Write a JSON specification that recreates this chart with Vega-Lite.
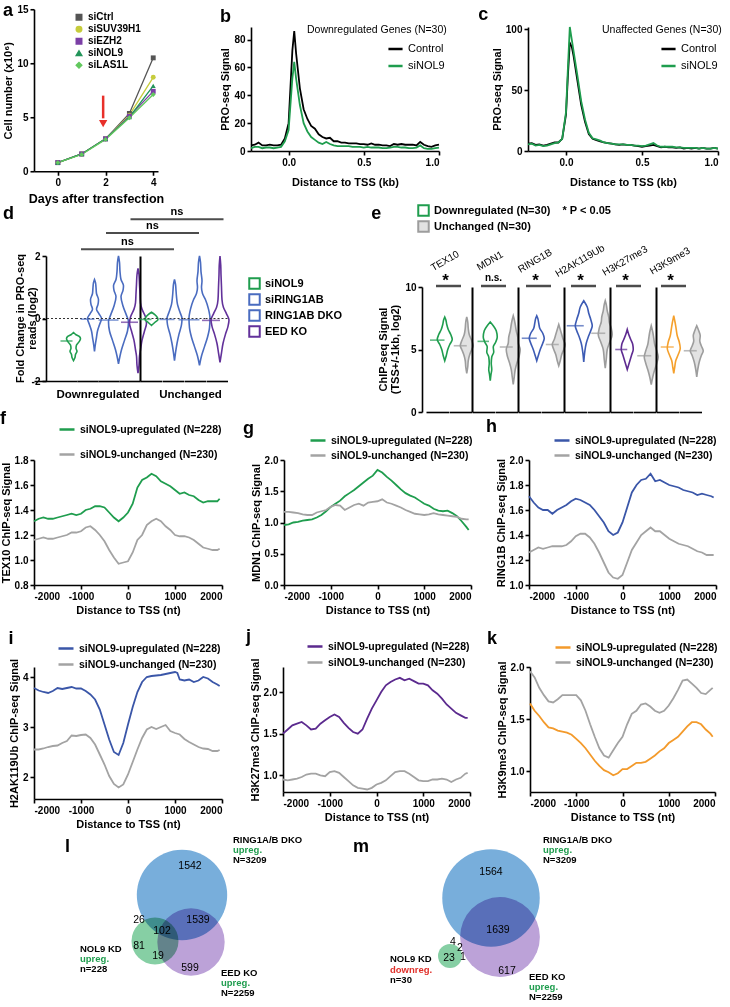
{
"$schema": "https://vega.github.io/schema/vega-lite/v6.json",
"background": "white",
"padding": {"left": 0, "top": 2, "right": 0, "bottom": 0},
"config": {
  "font": "Liberation Sans",
  "view": {"stroke": null},
  "axis": {"grid": false, "domainColor": "#000", "domainWidth": 1.6, "tickColor": "#000", "tickWidth": 1.6, "tickSize": 4, "labelColor": "#000", "labelFont": "Liberation Sans", "labelFontSize": 10, "labelFontWeight": "bold", "labelPadding": 2, "titleColor": "#000", "titleFont": "Liberation Sans", "titleFontSize": 11, "titleFontWeight": "bold", "titlePadding": 3},
  "legend": {"labelColor": "#000", "labelFont": "Liberation Sans", "labelFontSize": 10.5, "labelFontWeight": "bold", "titleColor": "#000", "titleFont": "Liberation Sans", "titleFontWeight": "normal", "titleFontSize": 10.5, "padding": 0},
  "title": {"fontSize": 18, "fontWeight": "bold", "anchor": "start", "frame": "bounds", "color": "#000", "font": "Liberation Sans"},
  "text": {"font": "Liberation Sans", "color": "#000"}
},
"datasets": {
  "a": [
    {"s":"siCtrl","day":0,"n":0.8},{"s":"siCtrl","day":1,"n":1.6},{"s":"siCtrl","day":2,"n":3.0},{"s":"siCtrl","day":3,"n":5.35},{"s":"siCtrl","day":4,"n":10.5},
    {"s":"siSUV39H1","day":0,"n":0.8},{"s":"siSUV39H1","day":1,"n":1.6},{"s":"siSUV39H1","day":2,"n":3.0},{"s":"siSUV39H1","day":3,"n":5.2},{"s":"siSUV39H1","day":4,"n":8.7},
    {"s":"siEZH2","day":0,"n":0.8},{"s":"siEZH2","day":1,"n":1.6},{"s":"siEZH2","day":2,"n":3.0},{"s":"siEZH2","day":3,"n":5.1},{"s":"siEZH2","day":4,"n":7.4},
    {"s":"siNOL9","day":0,"n":0.8},{"s":"siNOL9","day":1,"n":1.6},{"s":"siNOL9","day":2,"n":3.0},{"s":"siNOL9","day":3,"n":5.0},{"s":"siNOL9","day":4,"n":7.9},
    {"s":"siLAS1L","day":0,"n":0.8},{"s":"siLAS1L","day":1,"n":1.55},{"s":"siLAS1L","day":2,"n":2.95},{"s":"siLAS1L","day":3,"n":4.95},{"s":"siLAS1L","day":4,"n":7.1}
  ],
  "b": [
    {"s":"Control","x":-0.25,"v":4},{"s":"Control","x":-0.225,"v":4.5},{"s":"Control","x":-0.2,"v":6},{"s":"Control","x":-0.175,"v":4},{"s":"Control","x":-0.15,"v":4},{"s":"Control","x":-0.125,"v":4.5},{"s":"Control","x":-0.1,"v":4},{"s":"Control","x":-0.075,"v":4},{"s":"Control","x":-0.05,"v":4.5},{"s":"Control","x":-0.025,"v":9},{"s":"Control","x":0,"v":20},{"s":"Control","x":0.025,"v":72},{"s":"Control","x":0.0375,"v":86},{"s":"Control","x":0.05,"v":70},{"s":"Control","x":0.075,"v":45},{"s":"Control","x":0.1,"v":30},{"s":"Control","x":0.125,"v":23},{"s":"Control","x":0.15,"v":18},{"s":"Control","x":0.175,"v":16},{"s":"Control","x":0.2,"v":12},{"s":"Control","x":0.225,"v":10},{"s":"Control","x":0.25,"v":9},{"s":"Control","x":0.275,"v":9.5},{"s":"Control","x":0.3,"v":7},{"s":"Control","x":0.325,"v":7},{"s":"Control","x":0.35,"v":6},{"s":"Control","x":0.375,"v":6},{"s":"Control","x":0.4,"v":5.5},{"s":"Control","x":0.425,"v":5.5},{"s":"Control","x":0.45,"v":5.5},{"s":"Control","x":0.475,"v":5},{"s":"Control","x":0.5,"v":5},{"s":"Control","x":0.525,"v":4.5},{"s":"Control","x":0.55,"v":5.5},{"s":"Control","x":0.575,"v":4.5},{"s":"Control","x":0.6,"v":4.5},{"s":"Control","x":0.625,"v":4},{"s":"Control","x":0.65,"v":4},{"s":"Control","x":0.675,"v":3.5},{"s":"Control","x":0.7,"v":5},{"s":"Control","x":0.725,"v":4.5},{"s":"Control","x":0.75,"v":5},{"s":"Control","x":0.775,"v":4.5},{"s":"Control","x":0.8,"v":4.5},{"s":"Control","x":0.825,"v":4.5},{"s":"Control","x":0.85,"v":4},{"s":"Control","x":0.875,"v":6.5},{"s":"Control","x":0.9,"v":4.5},{"s":"Control","x":0.925,"v":3.5},{"s":"Control","x":0.95,"v":3},{"s":"Control","x":0.975,"v":4},{"s":"Control","x":1.0,"v":4.5},
    {"s":"siNOL9","x":-0.25,"v":2},{"s":"siNOL9","x":-0.225,"v":3},{"s":"siNOL9","x":-0.2,"v":3},{"s":"siNOL9","x":-0.175,"v":2},{"s":"siNOL9","x":-0.15,"v":2.5},{"s":"siNOL9","x":-0.125,"v":2.5},{"s":"siNOL9","x":-0.1,"v":2},{"s":"siNOL9","x":-0.075,"v":2.5},{"s":"siNOL9","x":-0.05,"v":3},{"s":"siNOL9","x":-0.025,"v":7},{"s":"siNOL9","x":0,"v":15},{"s":"siNOL9","x":0.025,"v":52},{"s":"siNOL9","x":0.0375,"v":64},{"s":"siNOL9","x":0.05,"v":52},{"s":"siNOL9","x":0.075,"v":33},{"s":"siNOL9","x":0.1,"v":20},{"s":"siNOL9","x":0.125,"v":14},{"s":"siNOL9","x":0.15,"v":10},{"s":"siNOL9","x":0.175,"v":8},{"s":"siNOL9","x":0.2,"v":6},{"s":"siNOL9","x":0.225,"v":5},{"s":"siNOL9","x":0.25,"v":6.5},{"s":"siNOL9","x":0.275,"v":5},{"s":"siNOL9","x":0.3,"v":4},{"s":"siNOL9","x":0.325,"v":3.5},{"s":"siNOL9","x":0.35,"v":3.5},{"s":"siNOL9","x":0.375,"v":3.5},{"s":"siNOL9","x":0.4,"v":3.5},{"s":"siNOL9","x":0.425,"v":3},{"s":"siNOL9","x":0.45,"v":3},{"s":"siNOL9","x":0.475,"v":3},{"s":"siNOL9","x":0.5,"v":2.5},{"s":"siNOL9","x":0.525,"v":3},{"s":"siNOL9","x":0.55,"v":2.5},{"s":"siNOL9","x":0.575,"v":2.5},{"s":"siNOL9","x":0.6,"v":2.5},{"s":"siNOL9","x":0.625,"v":2},{"s":"siNOL9","x":0.65,"v":2},{"s":"siNOL9","x":0.675,"v":2.5},{"s":"siNOL9","x":0.7,"v":3},{"s":"siNOL9","x":0.725,"v":3},{"s":"siNOL9","x":0.75,"v":2.5},{"s":"siNOL9","x":0.775,"v":2.5},{"s":"siNOL9","x":0.8,"v":2},{"s":"siNOL9","x":0.825,"v":2},{"s":"siNOL9","x":0.85,"v":2.5},{"s":"siNOL9","x":0.875,"v":4},{"s":"siNOL9","x":0.9,"v":2},{"s":"siNOL9","x":0.925,"v":1.5},{"s":"siNOL9","x":0.95,"v":1.5},{"s":"siNOL9","x":0.975,"v":2},{"s":"siNOL9","x":1.0,"v":2.5}
  ],
  "c": [
    {"s":"Control","x":-0.25,"v":6},{"s":"Control","x":-0.225,"v":6.5},{"s":"Control","x":-0.2,"v":5},{"s":"Control","x":-0.175,"v":5.5},{"s":"Control","x":-0.15,"v":4.5},{"s":"Control","x":-0.125,"v":5},{"s":"Control","x":-0.1,"v":6},{"s":"Control","x":-0.075,"v":7},{"s":"Control","x":-0.05,"v":7},{"s":"Control","x":-0.025,"v":10},{"s":"Control","x":0,"v":30},{"s":"Control","x":0.0125,"v":62},{"s":"Control","x":0.025,"v":89},{"s":"Control","x":0.0375,"v":86},{"s":"Control","x":0.05,"v":78},{"s":"Control","x":0.075,"v":58},{"s":"Control","x":0.1,"v":38},{"s":"Control","x":0.125,"v":24},{"s":"Control","x":0.15,"v":14},{"s":"Control","x":0.175,"v":10},{"s":"Control","x":0.2,"v":9},{"s":"Control","x":0.225,"v":8},{"s":"Control","x":0.25,"v":7},{"s":"Control","x":0.275,"v":6.5},{"s":"Control","x":0.3,"v":6},{"s":"Control","x":0.325,"v":5.5},{"s":"Control","x":0.35,"v":5},{"s":"Control","x":0.375,"v":5.5},{"s":"Control","x":0.4,"v":5},{"s":"Control","x":0.425,"v":5},{"s":"Control","x":0.45,"v":4.5},{"s":"Control","x":0.475,"v":4},{"s":"Control","x":0.5,"v":3.5},{"s":"Control","x":0.525,"v":4},{"s":"Control","x":0.55,"v":4.5},{"s":"Control","x":0.575,"v":5},{"s":"Control","x":0.6,"v":4},{"s":"Control","x":0.625,"v":3},{"s":"Control","x":0.65,"v":3.5},{"s":"Control","x":0.675,"v":3},{"s":"Control","x":0.7,"v":3},{"s":"Control","x":0.725,"v":2.5},{"s":"Control","x":0.75,"v":3},{"s":"Control","x":0.775,"v":2},{"s":"Control","x":0.8,"v":2.5},{"s":"Control","x":0.825,"v":2},{"s":"Control","x":0.85,"v":2.5},{"s":"Control","x":0.875,"v":2},{"s":"Control","x":0.9,"v":2.5},{"s":"Control","x":0.925,"v":2},{"s":"Control","x":0.95,"v":2},{"s":"Control","x":0.975,"v":2.5},{"s":"Control","x":1.0,"v":2},
    {"s":"siNOL9","x":-0.25,"v":5.5},{"s":"siNOL9","x":-0.225,"v":6},{"s":"siNOL9","x":-0.2,"v":4.5},{"s":"siNOL9","x":-0.175,"v":5},{"s":"siNOL9","x":-0.15,"v":4},{"s":"siNOL9","x":-0.125,"v":4.5},{"s":"siNOL9","x":-0.1,"v":5.5},{"s":"siNOL9","x":-0.075,"v":6.5},{"s":"siNOL9","x":-0.05,"v":7},{"s":"siNOL9","x":-0.025,"v":10},{"s":"siNOL9","x":0,"v":32},{"s":"siNOL9","x":0.0125,"v":68},{"s":"siNOL9","x":0.025,"v":102},{"s":"siNOL9","x":0.0375,"v":92},{"s":"siNOL9","x":0.05,"v":82},{"s":"siNOL9","x":0.075,"v":62},{"s":"siNOL9","x":0.1,"v":41},{"s":"siNOL9","x":0.125,"v":26},{"s":"siNOL9","x":0.15,"v":15},{"s":"siNOL9","x":0.175,"v":10.5},{"s":"siNOL9","x":0.2,"v":9.5},{"s":"siNOL9","x":0.225,"v":8.5},{"s":"siNOL9","x":0.25,"v":7},{"s":"siNOL9","x":0.275,"v":6.5},{"s":"siNOL9","x":0.3,"v":6},{"s":"siNOL9","x":0.325,"v":5.5},{"s":"siNOL9","x":0.35,"v":5.5},{"s":"siNOL9","x":0.375,"v":5.5},{"s":"siNOL9","x":0.4,"v":5},{"s":"siNOL9","x":0.425,"v":5},{"s":"siNOL9","x":0.45,"v":4.5},{"s":"siNOL9","x":0.475,"v":4.5},{"s":"siNOL9","x":0.5,"v":4},{"s":"siNOL9","x":0.525,"v":4.5},{"s":"siNOL9","x":0.55,"v":5.5},{"s":"siNOL9","x":0.575,"v":6.5},{"s":"siNOL9","x":0.6,"v":4.5},{"s":"siNOL9","x":0.625,"v":3.5},{"s":"siNOL9","x":0.65,"v":3.5},{"s":"siNOL9","x":0.675,"v":3.5},{"s":"siNOL9","x":0.7,"v":3.5},{"s":"siNOL9","x":0.725,"v":3},{"s":"siNOL9","x":0.75,"v":3},{"s":"siNOL9","x":0.775,"v":2.5},{"s":"siNOL9","x":0.8,"v":2.5},{"s":"siNOL9","x":0.825,"v":2.5},{"s":"siNOL9","x":0.85,"v":2.5},{"s":"siNOL9","x":0.875,"v":2},{"s":"siNOL9","x":0.9,"v":2.5},{"s":"siNOL9","x":0.925,"v":2},{"s":"siNOL9","x":0.95,"v":2},{"s":"siNOL9","x":0.975,"v":2.5},{"s":"siNOL9","x":1.0,"v":2}
  ],
  "dv": [
    {"g":"D","c":"siNOL9","y":-1.35,"w":0},{"g":"D","c":"siNOL9","y":-1.25,"w":3},{"g":"D","c":"siNOL9","y":-1.15,"w":4},{"g":"D","c":"siNOL9","y":-1.05,"w":7},{"g":"D","c":"siNOL9","y":-0.95,"w":5},{"g":"D","c":"siNOL9","y":-0.85,"w":6},{"g":"D","c":"siNOL9","y":-0.75,"w":11},{"g":"D","c":"siNOL9","y":-0.65,"w":14},{"g":"D","c":"siNOL9","y":-0.58,"w":12},{"g":"D","c":"siNOL9","y":-0.52,"w":5},{"g":"D","c":"siNOL9","y":-0.45,"w":0},
    {"g":"D","c":"siRING1AB","y":-1.05,"w":0},{"g":"D","c":"siRING1AB","y":-0.8,"w":2},{"g":"D","c":"siRING1AB","y":-0.6,"w":4},{"g":"D","c":"siRING1AB","y":-0.4,"w":6},{"g":"D","c":"siRING1AB","y":-0.2,"w":10},{"g":"D","c":"siRING1AB","y":0.0,"w":14},{"g":"D","c":"siRING1AB","y":0.15,"w":9},{"g":"D","c":"siRING1AB","y":0.3,"w":4},{"g":"D","c":"siRING1AB","y":0.45,"w":7},{"g":"D","c":"siRING1AB","y":0.6,"w":8},{"g":"D","c":"siRING1AB","y":0.8,"w":4},{"g":"D","c":"siRING1AB","y":1.0,"w":3},{"g":"D","c":"siRING1AB","y":1.15,"w":2},{"g":"D","c":"siRING1AB","y":1.25,"w":0},
    {"g":"D","c":"RING1AB DKO","y":-1.45,"w":0},{"g":"D","c":"RING1AB DKO","y":-1.2,"w":3},{"g":"D","c":"RING1AB DKO","y":-1.0,"w":6},{"g":"D","c":"RING1AB DKO","y":-0.7,"w":12},{"g":"D","c":"RING1AB DKO","y":-0.4,"w":18},{"g":"D","c":"RING1AB DKO","y":-0.1,"w":20},{"g":"D","c":"RING1AB DKO","y":0.1,"w":16},{"g":"D","c":"RING1AB DKO","y":0.4,"w":9},{"g":"D","c":"RING1AB DKO","y":0.7,"w":5},{"g":"D","c":"RING1AB DKO","y":0.9,"w":9},{"g":"D","c":"RING1AB DKO","y":1.05,"w":10},{"g":"D","c":"RING1AB DKO","y":1.25,"w":5},{"g":"D","c":"RING1AB DKO","y":1.5,"w":3},{"g":"D","c":"RING1AB DKO","y":1.8,"w":2},{"g":"D","c":"RING1AB DKO","y":2.0,"w":0},
    {"g":"D","c":"EED KO","y":-1.75,"w":0},{"g":"D","c":"EED KO","y":-1.5,"w":2},{"g":"D","c":"EED KO","y":-1.2,"w":3},{"g":"D","c":"EED KO","y":-1.0,"w":5},{"g":"D","c":"EED KO","y":-0.7,"w":8},{"g":"D","c":"EED KO","y":-0.4,"w":13},{"g":"D","c":"EED KO","y":-0.15,"w":17},{"g":"D","c":"EED KO","y":0.05,"w":15},{"g":"D","c":"EED KO","y":0.3,"w":8},{"g":"D","c":"EED KO","y":0.5,"w":5},{"g":"D","c":"EED KO","y":0.8,"w":4},{"g":"D","c":"EED KO","y":1.1,"w":3},{"g":"D","c":"EED KO","y":1.4,"w":2},{"g":"D","c":"EED KO","y":1.6,"w":0},
    {"g":"U","c":"siNOL9","y":-0.22,"w":0},{"g":"U","c":"siNOL9","y":-0.12,"w":7},{"g":"U","c":"siNOL9","y":-0.03,"w":13},{"g":"U","c":"siNOL9","y":0.05,"w":11},{"g":"U","c":"siNOL9","y":0.13,"w":6},{"g":"U","c":"siNOL9","y":0.2,"w":0},
    {"g":"U","c":"siRING1AB","y":-1.35,"w":0},{"g":"U","c":"siRING1AB","y":-1.1,"w":2},{"g":"U","c":"siRING1AB","y":-0.8,"w":5},{"g":"U","c":"siRING1AB","y":-0.5,"w":9},{"g":"U","c":"siRING1AB","y":-0.2,"w":14},{"g":"U","c":"siRING1AB","y":0.0,"w":15},{"g":"U","c":"siRING1AB","y":0.2,"w":11},{"g":"U","c":"siRING1AB","y":0.45,"w":6},{"g":"U","c":"siRING1AB","y":0.7,"w":4},{"g":"U","c":"siRING1AB","y":0.9,"w":3},{"g":"U","c":"siRING1AB","y":1.1,"w":2},{"g":"U","c":"siRING1AB","y":1.25,"w":0},
    {"g":"U","c":"RING1AB DKO","y":-1.5,"w":0},{"g":"U","c":"RING1AB DKO","y":-1.2,"w":4},{"g":"U","c":"RING1AB DKO","y":-0.9,"w":10},{"g":"U","c":"RING1AB DKO","y":-0.6,"w":16},{"g":"U","c":"RING1AB DKO","y":-0.3,"w":20},{"g":"U","c":"RING1AB DKO","y":0.0,"w":21},{"g":"U","c":"RING1AB DKO","y":0.3,"w":18},{"g":"U","c":"RING1AB DKO","y":0.6,"w":12},{"g":"U","c":"RING1AB DKO","y":0.8,"w":6},{"g":"U","c":"RING1AB DKO","y":1.0,"w":4},{"g":"U","c":"RING1AB DKO","y":1.2,"w":5},{"g":"U","c":"RING1AB DKO","y":1.5,"w":3},{"g":"U","c":"RING1AB DKO","y":1.8,"w":2},{"g":"U","c":"RING1AB DKO","y":2.0,"w":0},
    {"g":"U","c":"EED KO","y":-1.4,"w":0},{"g":"U","c":"EED KO","y":-1.1,"w":3},{"g":"U","c":"EED KO","y":-0.8,"w":6},{"g":"U","c":"EED KO","y":-0.5,"w":11},{"g":"U","c":"EED KO","y":-0.25,"w":16},{"g":"U","c":"EED KO","y":-0.05,"w":18},{"g":"U","c":"EED KO","y":0.15,"w":13},{"g":"U","c":"EED KO","y":0.35,"w":7},{"g":"U","c":"EED KO","y":0.6,"w":4},{"g":"U","c":"EED KO","y":1.0,"w":3},{"g":"U","c":"EED KO","y":1.4,"w":2},{"g":"U","c":"EED KO","y":1.7,"w":1.5},{"g":"U","c":"EED KO","y":2.0,"w":0},
    {"g":"D","c":"siNOL9","med":-0.72,"mw":12,"z":0},{"g":"D","c":"siRING1AB","med":-0.02,"mw":14,"z":0,"ns":2.22},{"g":"D","c":"RING1AB DKO","med":-0.05,"mw":20,"z":0,"ns":2.74},{"g":"D","c":"EED KO","med":-0.12,"mw":17,"z":0,"ns":3.18},
    {"g":"U","c":"siNOL9","med":-0.03,"mw":13,"z":0},{"g":"U","c":"siRING1AB","med":-0.03,"mw":15,"z":0},{"g":"U","c":"RING1AB DKO","med":-0.04,"mw":21,"z":0},{"g":"U","c":"EED KO","med":-0.06,"mw":18,"z":0}
  ],
  "ev": [
    {"id":"TEX10_D","k":"D","y":4.1,"w":0},{"id":"TEX10_D","k":"D","y":4.5,"w":3},{"id":"TEX10_D","k":"D","y":5.0,"w":6},{"id":"TEX10_D","k":"D","y":5.4,"w":10},{"id":"TEX10_D","k":"D","y":5.8,"w":15},{"id":"TEX10_D","k":"D","y":6.2,"w":12},{"id":"TEX10_D","k":"D","y":6.6,"w":7},{"id":"TEX10_D","k":"D","y":7.0,"w":4},{"id":"TEX10_D","k":"D","y":7.4,"w":2},{"id":"TEX10_D","k":"D","y":7.6,"w":0},
    {"id":"TEX10_U","k":"U","y":3.1,"w":0},{"id":"TEX10_U","k":"U","y":3.6,"w":2},{"id":"TEX10_U","k":"U","y":4.1,"w":3},{"id":"TEX10_U","k":"U","y":4.6,"w":6},{"id":"TEX10_U","k":"U","y":5.0,"w":10},{"id":"TEX10_U","k":"U","y":5.3,"w":13},{"id":"TEX10_U","k":"U","y":5.7,"w":10},{"id":"TEX10_U","k":"U","y":6.2,"w":5},{"id":"TEX10_U","k":"U","y":6.7,"w":3},{"id":"TEX10_U","k":"U","y":7.2,"w":2},{"id":"TEX10_U","k":"U","y":7.6,"w":0},
    {"id":"MDN1_D","k":"D","y":2.5,"w":0},{"id":"MDN1_D","k":"D","y":3.0,"w":1.5},{"id":"MDN1_D","k":"D","y":3.4,"w":3},{"id":"MDN1_D","k":"D","y":3.9,"w":2},{"id":"MDN1_D","k":"D","y":4.4,"w":3},{"id":"MDN1_D","k":"D","y":4.8,"w":7},{"id":"MDN1_D","k":"D","y":5.2,"w":6},{"id":"MDN1_D","k":"D","y":5.6,"w":11},{"id":"MDN1_D","k":"D","y":6.0,"w":14},{"id":"MDN1_D","k":"D","y":6.5,"w":12},{"id":"MDN1_D","k":"D","y":6.9,"w":6},{"id":"MDN1_D","k":"D","y":7.2,"w":0},
    {"id":"MDN1_U","k":"U","y":2.2,"w":0},{"id":"MDN1_U","k":"U","y":2.8,"w":2},{"id":"MDN1_U","k":"U","y":3.4,"w":4},{"id":"MDN1_U","k":"U","y":4.0,"w":8},{"id":"MDN1_U","k":"U","y":4.5,"w":12},{"id":"MDN1_U","k":"U","y":5.0,"w":14},{"id":"MDN1_U","k":"U","y":5.5,"w":10},{"id":"MDN1_U","k":"U","y":6.0,"w":9},{"id":"MDN1_U","k":"U","y":6.5,"w":6},{"id":"MDN1_U","k":"U","y":7.0,"w":4},{"id":"MDN1_U","k":"U","y":7.4,"w":2},{"id":"MDN1_U","k":"U","y":7.7,"w":0},
    {"id":"RING1B_D","k":"D","y":4.1,"w":0},{"id":"RING1B_D","k":"D","y":4.5,"w":3},{"id":"RING1B_D","k":"D","y":5.0,"w":7},{"id":"RING1B_D","k":"D","y":5.5,"w":12},{"id":"RING1B_D","k":"D","y":5.9,"w":15},{"id":"RING1B_D","k":"D","y":6.3,"w":12},{"id":"RING1B_D","k":"D","y":6.7,"w":6},{"id":"RING1B_D","k":"D","y":7.1,"w":4},{"id":"RING1B_D","k":"D","y":7.5,"w":2},{"id":"RING1B_D","k":"D","y":7.7,"w":0},
    {"id":"RING1B_U","k":"U","y":3.7,"w":0},{"id":"RING1B_U","k":"U","y":4.1,"w":3},{"id":"RING1B_U","k":"U","y":4.6,"w":6},{"id":"RING1B_U","k":"U","y":5.0,"w":10},{"id":"RING1B_U","k":"U","y":5.4,"w":13},{"id":"RING1B_U","k":"U","y":5.8,"w":9},{"id":"RING1B_U","k":"U","y":6.2,"w":6},{"id":"RING1B_U","k":"U","y":6.6,"w":3},{"id":"RING1B_U","k":"U","y":7.0,"w":0},
    {"id":"H2AK119Ub_D","k":"D","y":4.0,"w":0},{"id":"H2AK119Ub_D","k":"D","y":4.8,"w":2},{"id":"H2AK119Ub_D","k":"D","y":5.5,"w":5},{"id":"H2AK119Ub_D","k":"D","y":6.0,"w":9},{"id":"H2AK119Ub_D","k":"D","y":6.5,"w":14},{"id":"H2AK119Ub_D","k":"D","y":6.9,"w":17},{"id":"H2AK119Ub_D","k":"D","y":7.4,"w":14},{"id":"H2AK119Ub_D","k":"D","y":7.9,"w":10},{"id":"H2AK119Ub_D","k":"D","y":8.4,"w":7},{"id":"H2AK119Ub_D","k":"D","y":8.9,"w":0},
    {"id":"H2AK119Ub_U","k":"U","y":3.5,"w":0},{"id":"H2AK119Ub_U","k":"U","y":4.2,"w":2},{"id":"H2AK119Ub_U","k":"U","y":5.0,"w":4},{"id":"H2AK119Ub_U","k":"U","y":5.6,"w":9},{"id":"H2AK119Ub_U","k":"U","y":6.2,"w":14},{"id":"H2AK119Ub_U","k":"U","y":6.7,"w":12},{"id":"H2AK119Ub_U","k":"U","y":7.2,"w":8},{"id":"H2AK119Ub_U","k":"U","y":7.6,"w":7},{"id":"H2AK119Ub_U","k":"U","y":8.1,"w":4},{"id":"H2AK119Ub_U","k":"U","y":8.6,"w":2},{"id":"H2AK119Ub_U","k":"U","y":8.9,"w":0},
    {"id":"H3K27me3_D","k":"D","y":3.4,"w":0},{"id":"H3K27me3_D","k":"D","y":3.8,"w":3},{"id":"H3K27me3_D","k":"D","y":4.2,"w":6},{"id":"H3K27me3_D","k":"D","y":4.6,"w":9},{"id":"H3K27me3_D","k":"D","y":5.0,"w":12},{"id":"H3K27me3_D","k":"D","y":5.4,"w":11},{"id":"H3K27me3_D","k":"D","y":5.8,"w":7},{"id":"H3K27me3_D","k":"D","y":6.2,"w":3},{"id":"H3K27me3_D","k":"D","y":6.6,"w":0},
    {"id":"H3K27me3_U","k":"U","y":2.2,"w":0},{"id":"H3K27me3_U","k":"U","y":2.8,"w":3},{"id":"H3K27me3_U","k":"U","y":3.4,"w":7},{"id":"H3K27me3_U","k":"U","y":3.9,"w":11},{"id":"H3K27me3_U","k":"U","y":4.4,"w":14},{"id":"H3K27me3_U","k":"U","y":4.9,"w":11},{"id":"H3K27me3_U","k":"U","y":5.4,"w":7},{"id":"H3K27me3_U","k":"U","y":5.9,"w":5},{"id":"H3K27me3_U","k":"U","y":6.4,"w":3},{"id":"H3K27me3_U","k":"U","y":6.9,"w":0},
    {"id":"H3K9me3_D","k":"D","y":3.1,"w":0},{"id":"H3K9me3_D","k":"D","y":3.6,"w":2},{"id":"H3K9me3_D","k":"D","y":4.1,"w":4},{"id":"H3K9me3_D","k":"D","y":4.6,"w":9},{"id":"H3K9me3_D","k":"D","y":5.1,"w":13},{"id":"H3K9me3_D","k":"D","y":5.6,"w":11},{"id":"H3K9me3_D","k":"D","y":6.1,"w":7},{"id":"H3K9me3_D","k":"D","y":6.6,"w":5},{"id":"H3K9me3_D","k":"D","y":7.1,"w":3},{"id":"H3K9me3_D","k":"D","y":7.7,"w":0},
    {"id":"H3K9me3_U","k":"U","y":2.8,"w":0},{"id":"H3K9me3_U","k":"U","y":3.4,"w":2},{"id":"H3K9me3_U","k":"U","y":4.0,"w":5},{"id":"H3K9me3_U","k":"U","y":4.5,"w":9},{"id":"H3K9me3_U","k":"U","y":4.9,"w":13},{"id":"H3K9me3_U","k":"U","y":5.3,"w":9},{"id":"H3K9me3_U","k":"U","y":5.7,"w":6},{"id":"H3K9me3_U","k":"U","y":6.1,"w":7},{"id":"H3K9me3_U","k":"U","y":6.5,"w":4},{"id":"H3K9me3_U","k":"U","y":6.9,"w":0},
    {"id":"TEX10_D","k":"D","med":5.75,"mw":14.5,"m":"TEX10","sig":"*"},{"id":"TEX10_U","k":"U","med":5.3,"mw":13},
    {"id":"MDN1_D","k":"D","med":5.65,"mw":11.5,"m":"MDN1","sig":"n.s."},{"id":"MDN1_U","k":"U","med":5.2,"mw":13},
    {"id":"RING1B_D","k":"D","med":5.9,"mw":15,"m":"RING1B","sig":"*"},{"id":"RING1B_U","k":"U","med":5.4,"mw":13},
    {"id":"H2AK119Ub_D","k":"D","med":6.9,"mw":17,"m":"H2AK119Ub","sig":"*"},{"id":"H2AK119Ub_U","k":"U","med":6.3,"mw":14},
    {"id":"H3K27me3_D","k":"D","med":5.0,"mw":12,"m":"H3K27me3","sig":"*"},{"id":"H3K27me3_U","k":"U","med":4.5,"mw":14},
    {"id":"H3K9me3_D","k":"D","med":5.2,"mw":13,"m":"H3K9me3","sig":"*"},{"id":"H3K9me3_U","k":"U","med":4.9,"mw":13}
  ],
  "f": [
    {"s":"u","t":-2000,"v":1.31},{"s":"u","t":-1900,"v":1.33},{"s":"u","t":-1800,"v":1.34},{"s":"u","t":-1700,"v":1.33},{"s":"u","t":-1600,"v":1.33},{"s":"u","t":-1500,"v":1.34},{"s":"u","t":-1400,"v":1.35},{"s":"u","t":-1300,"v":1.36},{"s":"u","t":-1200,"v":1.37},{"s":"u","t":-1100,"v":1.36},{"s":"u","t":-1000,"v":1.37},{"s":"u","t":-900,"v":1.40},{"s":"u","t":-800,"v":1.41},{"s":"u","t":-700,"v":1.43},{"s":"u","t":-600,"v":1.43},{"s":"u","t":-500,"v":1.42},{"s":"u","t":-400,"v":1.38},{"s":"u","t":-300,"v":1.34},{"s":"u","t":-200,"v":1.31},{"s":"u","t":-100,"v":1.34},{"s":"u","t":0,"v":1.38},{"s":"u","t":100,"v":1.45},{"s":"u","t":200,"v":1.58},{"s":"u","t":300,"v":1.64},{"s":"u","t":400,"v":1.66},{"s":"u","t":500,"v":1.69},{"s":"u","t":600,"v":1.67},{"s":"u","t":700,"v":1.63},{"s":"u","t":800,"v":1.61},{"s":"u","t":900,"v":1.59},{"s":"u","t":1000,"v":1.56},{"s":"u","t":1100,"v":1.53},{"s":"u","t":1200,"v":1.54},{"s":"u","t":1300,"v":1.52},{"s":"u","t":1400,"v":1.51},{"s":"u","t":1500,"v":1.48},{"s":"u","t":1600,"v":1.46},{"s":"u","t":1700,"v":1.47},{"s":"u","t":1800,"v":1.47},{"s":"u","t":1900,"v":1.47},{"s":"u","t":1950,"v":1.49},
    {"s":"n","t":-2000,"v":1.16},{"s":"n","t":-1900,"v":1.17},{"s":"n","t":-1800,"v":1.18},{"s":"n","t":-1700,"v":1.17},{"s":"n","t":-1600,"v":1.17},{"s":"n","t":-1500,"v":1.18},{"s":"n","t":-1400,"v":1.19},{"s":"n","t":-1300,"v":1.20},{"s":"n","t":-1200,"v":1.22},{"s":"n","t":-1100,"v":1.22},{"s":"n","t":-1000,"v":1.23},{"s":"n","t":-900,"v":1.26},{"s":"n","t":-800,"v":1.27},{"s":"n","t":-700,"v":1.24},{"s":"n","t":-600,"v":1.20},{"s":"n","t":-500,"v":1.15},{"s":"n","t":-400,"v":1.08},{"s":"n","t":-300,"v":1.02},{"s":"n","t":-200,"v":0.97},{"s":"n","t":-100,"v":0.98},{"s":"n","t":0,"v":0.99},{"s":"n","t":100,"v":1.06},{"s":"n","t":200,"v":1.16},{"s":"n","t":300,"v":1.20},{"s":"n","t":400,"v":1.28},{"s":"n","t":500,"v":1.31},{"s":"n","t":600,"v":1.33},{"s":"n","t":700,"v":1.31},{"s":"n","t":800,"v":1.27},{"s":"n","t":900,"v":1.24},{"s":"n","t":1000,"v":1.20},{"s":"n","t":1100,"v":1.19},{"s":"n","t":1200,"v":1.19},{"s":"n","t":1300,"v":1.18},{"s":"n","t":1400,"v":1.16},{"s":"n","t":1500,"v":1.13},{"s":"n","t":1600,"v":1.10},{"s":"n","t":1700,"v":1.09},{"s":"n","t":1800,"v":1.08},{"s":"n","t":1900,"v":1.08},{"s":"n","t":1950,"v":1.09}
  ],
  "g": [
    {"s":"u","t":-2000,"v":0.96},{"s":"u","t":-1900,"v":0.97},{"s":"u","t":-1800,"v":1.00},{"s":"u","t":-1700,"v":1.01},{"s":"u","t":-1600,"v":1.03},{"s":"u","t":-1500,"v":1.04},{"s":"u","t":-1400,"v":1.05},{"s":"u","t":-1300,"v":1.08},{"s":"u","t":-1200,"v":1.12},{"s":"u","t":-1100,"v":1.18},{"s":"u","t":-1000,"v":1.25},{"s":"u","t":-900,"v":1.30},{"s":"u","t":-800,"v":1.35},{"s":"u","t":-700,"v":1.42},{"s":"u","t":-600,"v":1.47},{"s":"u","t":-500,"v":1.52},{"s":"u","t":-400,"v":1.58},{"s":"u","t":-300,"v":1.64},{"s":"u","t":-200,"v":1.70},{"s":"u","t":-100,"v":1.75},{"s":"u","t":0,"v":1.84},{"s":"u","t":100,"v":1.80},{"s":"u","t":200,"v":1.73},{"s":"u","t":300,"v":1.67},{"s":"u","t":400,"v":1.60},{"s":"u","t":500,"v":1.53},{"s":"u","t":600,"v":1.47},{"s":"u","t":700,"v":1.43},{"s":"u","t":800,"v":1.40},{"s":"u","t":900,"v":1.35},{"s":"u","t":1000,"v":1.30},{"s":"u","t":1100,"v":1.27},{"s":"u","t":1200,"v":1.22},{"s":"u","t":1300,"v":1.19},{"s":"u","t":1400,"v":1.18},{"s":"u","t":1500,"v":1.19},{"s":"u","t":1600,"v":1.15},{"s":"u","t":1700,"v":1.10},{"s":"u","t":1800,"v":1.02},{"s":"u","t":1900,"v":0.93},{"s":"u","t":1950,"v":0.88},
    {"s":"n","t":-2000,"v":1.17},{"s":"n","t":-1900,"v":1.17},{"s":"n","t":-1800,"v":1.16},{"s":"n","t":-1700,"v":1.15},{"s":"n","t":-1600,"v":1.13},{"s":"n","t":-1500,"v":1.12},{"s":"n","t":-1400,"v":1.12},{"s":"n","t":-1300,"v":1.16},{"s":"n","t":-1200,"v":1.18},{"s":"n","t":-1100,"v":1.20},{"s":"n","t":-1000,"v":1.25},{"s":"n","t":-900,"v":1.28},{"s":"n","t":-800,"v":1.27},{"s":"n","t":-700,"v":1.20},{"s":"n","t":-600,"v":1.24},{"s":"n","t":-500,"v":1.28},{"s":"n","t":-400,"v":1.30},{"s":"n","t":-300,"v":1.27},{"s":"n","t":-200,"v":1.32},{"s":"n","t":-100,"v":1.33},{"s":"n","t":0,"v":1.34},{"s":"n","t":100,"v":1.37},{"s":"n","t":200,"v":1.32},{"s":"n","t":300,"v":1.30},{"s":"n","t":400,"v":1.27},{"s":"n","t":500,"v":1.24},{"s":"n","t":600,"v":1.20},{"s":"n","t":700,"v":1.17},{"s":"n","t":800,"v":1.14},{"s":"n","t":900,"v":1.13},{"s":"n","t":1000,"v":1.12},{"s":"n","t":1100,"v":1.13},{"s":"n","t":1200,"v":1.15},{"s":"n","t":1300,"v":1.13},{"s":"n","t":1400,"v":1.12},{"s":"n","t":1500,"v":1.11},{"s":"n","t":1600,"v":1.10},{"s":"n","t":1700,"v":1.09},{"s":"n","t":1800,"v":1.06},{"s":"n","t":1900,"v":1.05},{"s":"n","t":1950,"v":1.05}
  ],
  "h": [
    {"s":"u","t":-2000,"v":1.71},{"s":"u","t":-1900,"v":1.66},{"s":"u","t":-1800,"v":1.62},{"s":"u","t":-1700,"v":1.60},{"s":"u","t":-1600,"v":1.60},{"s":"u","t":-1500,"v":1.57},{"s":"u","t":-1400,"v":1.60},{"s":"u","t":-1300,"v":1.62},{"s":"u","t":-1200,"v":1.64},{"s":"u","t":-1100,"v":1.67},{"s":"u","t":-1000,"v":1.69},{"s":"u","t":-900,"v":1.68},{"s":"u","t":-800,"v":1.66},{"s":"u","t":-700,"v":1.64},{"s":"u","t":-600,"v":1.60},{"s":"u","t":-500,"v":1.55},{"s":"u","t":-400,"v":1.50},{"s":"u","t":-300,"v":1.43},{"s":"u","t":-200,"v":1.40},{"s":"u","t":-100,"v":1.42},{"s":"u","t":0,"v":1.50},{"s":"u","t":100,"v":1.62},{"s":"u","t":200,"v":1.74},{"s":"u","t":300,"v":1.80},{"s":"u","t":400,"v":1.84},{"s":"u","t":500,"v":1.85},{"s":"u","t":600,"v":1.89},{"s":"u","t":700,"v":1.83},{"s":"u","t":800,"v":1.84},{"s":"u","t":900,"v":1.82},{"s":"u","t":1000,"v":1.80},{"s":"u","t":1100,"v":1.79},{"s":"u","t":1200,"v":1.78},{"s":"u","t":1300,"v":1.76},{"s":"u","t":1400,"v":1.75},{"s":"u","t":1500,"v":1.74},{"s":"u","t":1600,"v":1.72},{"s":"u","t":1700,"v":1.73},{"s":"u","t":1800,"v":1.72},{"s":"u","t":1900,"v":1.71},{"s":"u","t":1950,"v":1.70},
    {"s":"n","t":-2000,"v":1.26},{"s":"n","t":-1900,"v":1.28},{"s":"n","t":-1800,"v":1.30},{"s":"n","t":-1700,"v":1.29},{"s":"n","t":-1600,"v":1.30},{"s":"n","t":-1500,"v":1.31},{"s":"n","t":-1400,"v":1.31},{"s":"n","t":-1300,"v":1.31},{"s":"n","t":-1200,"v":1.32},{"s":"n","t":-1100,"v":1.35},{"s":"n","t":-1000,"v":1.39},{"s":"n","t":-900,"v":1.41},{"s":"n","t":-800,"v":1.41},{"s":"n","t":-700,"v":1.38},{"s":"n","t":-600,"v":1.33},{"s":"n","t":-500,"v":1.26},{"s":"n","t":-400,"v":1.18},{"s":"n","t":-300,"v":1.10},{"s":"n","t":-200,"v":1.06},{"s":"n","t":-100,"v":1.05},{"s":"n","t":0,"v":1.08},{"s":"n","t":100,"v":1.18},{"s":"n","t":200,"v":1.28},{"s":"n","t":300,"v":1.34},{"s":"n","t":400,"v":1.40},{"s":"n","t":500,"v":1.43},{"s":"n","t":600,"v":1.46},{"s":"n","t":700,"v":1.43},{"s":"n","t":800,"v":1.43},{"s":"n","t":900,"v":1.40},{"s":"n","t":1000,"v":1.37},{"s":"n","t":1100,"v":1.35},{"s":"n","t":1200,"v":1.33},{"s":"n","t":1300,"v":1.32},{"s":"n","t":1400,"v":1.31},{"s":"n","t":1500,"v":1.29},{"s":"n","t":1600,"v":1.27},{"s":"n","t":1700,"v":1.26},{"s":"n","t":1800,"v":1.24},{"s":"n","t":1900,"v":1.24},{"s":"n","t":1950,"v":1.24}
  ],
  "i": [
    {"s":"u","t":-2000,"v":3.78},{"s":"u","t":-1900,"v":3.73},{"s":"u","t":-1800,"v":3.70},{"s":"u","t":-1700,"v":3.68},{"s":"u","t":-1600,"v":3.72},{"s":"u","t":-1500,"v":3.78},{"s":"u","t":-1400,"v":3.76},{"s":"u","t":-1300,"v":3.78},{"s":"u","t":-1200,"v":3.80},{"s":"u","t":-1100,"v":3.77},{"s":"u","t":-1000,"v":3.77},{"s":"u","t":-900,"v":3.72},{"s":"u","t":-800,"v":3.65},{"s":"u","t":-700,"v":3.55},{"s":"u","t":-600,"v":3.35},{"s":"u","t":-500,"v":3.05},{"s":"u","t":-400,"v":2.75},{"s":"u","t":-300,"v":2.50},{"s":"u","t":-200,"v":2.44},{"s":"u","t":-100,"v":2.68},{"s":"u","t":0,"v":3.05},{"s":"u","t":100,"v":3.40},{"s":"u","t":200,"v":3.70},{"s":"u","t":300,"v":3.90},{"s":"u","t":400,"v":4.00},{"s":"u","t":500,"v":4.02},{"s":"u","t":600,"v":4.03},{"s":"u","t":700,"v":4.04},{"s":"u","t":800,"v":4.06},{"s":"u","t":900,"v":4.08},{"s":"u","t":1000,"v":4.10},{"s":"u","t":1050,"v":4.08},{"s":"u","t":1100,"v":3.95},{"s":"u","t":1200,"v":3.93},{"s":"u","t":1300,"v":3.95},{"s":"u","t":1400,"v":3.90},{"s":"u","t":1500,"v":3.93},{"s":"u","t":1600,"v":4.00},{"s":"u","t":1700,"v":3.97},{"s":"u","t":1800,"v":3.90},{"s":"u","t":1900,"v":3.85},{"s":"u","t":1950,"v":3.82},
    {"s":"n","t":-2000,"v":2.55},{"s":"n","t":-1900,"v":2.55},{"s":"n","t":-1800,"v":2.57},{"s":"n","t":-1700,"v":2.60},{"s":"n","t":-1600,"v":2.62},{"s":"n","t":-1500,"v":2.63},{"s":"n","t":-1400,"v":2.68},{"s":"n","t":-1300,"v":2.72},{"s":"n","t":-1200,"v":2.83},{"s":"n","t":-1100,"v":2.82},{"s":"n","t":-1000,"v":2.84},{"s":"n","t":-900,"v":2.85},{"s":"n","t":-800,"v":2.78},{"s":"n","t":-700,"v":2.65},{"s":"n","t":-600,"v":2.45},{"s":"n","t":-500,"v":2.25},{"s":"n","t":-400,"v":2.02},{"s":"n","t":-300,"v":1.86},{"s":"n","t":-200,"v":1.79},{"s":"n","t":-100,"v":1.85},{"s":"n","t":0,"v":2.05},{"s":"n","t":100,"v":2.30},{"s":"n","t":200,"v":2.55},{"s":"n","t":300,"v":2.78},{"s":"n","t":400,"v":2.95},{"s":"n","t":500,"v":3.00},{"s":"n","t":600,"v":2.96},{"s":"n","t":700,"v":3.00},{"s":"n","t":800,"v":3.04},{"s":"n","t":900,"v":2.92},{"s":"n","t":1000,"v":2.88},{"s":"n","t":1100,"v":2.85},{"s":"n","t":1200,"v":2.76},{"s":"n","t":1300,"v":2.70},{"s":"n","t":1400,"v":2.65},{"s":"n","t":1500,"v":2.60},{"s":"n","t":1600,"v":2.57},{"s":"n","t":1700,"v":2.56},{"s":"n","t":1800,"v":2.52},{"s":"n","t":1900,"v":2.52},{"s":"n","t":1950,"v":2.54}
  ],
  "j": [
    {"s":"u","t":-2000,"v":1.50},{"s":"u","t":-1900,"v":1.55},{"s":"u","t":-1800,"v":1.60},{"s":"u","t":-1700,"v":1.62},{"s":"u","t":-1600,"v":1.64},{"s":"u","t":-1500,"v":1.60},{"s":"u","t":-1400,"v":1.55},{"s":"u","t":-1300,"v":1.56},{"s":"u","t":-1200,"v":1.62},{"s":"u","t":-1100,"v":1.66},{"s":"u","t":-1000,"v":1.70},{"s":"u","t":-900,"v":1.73},{"s":"u","t":-800,"v":1.70},{"s":"u","t":-700,"v":1.63},{"s":"u","t":-600,"v":1.57},{"s":"u","t":-500,"v":1.52},{"s":"u","t":-400,"v":1.50},{"s":"u","t":-300,"v":1.55},{"s":"u","t":-200,"v":1.68},{"s":"u","t":-100,"v":1.80},{"s":"u","t":0,"v":1.90},{"s":"u","t":100,"v":2.00},{"s":"u","t":200,"v":2.08},{"s":"u","t":300,"v":2.12},{"s":"u","t":400,"v":2.15},{"s":"u","t":500,"v":2.17},{"s":"u","t":600,"v":2.14},{"s":"u","t":700,"v":2.16},{"s":"u","t":800,"v":2.13},{"s":"u","t":900,"v":2.10},{"s":"u","t":1000,"v":2.10},{"s":"u","t":1100,"v":2.08},{"s":"u","t":1200,"v":2.02},{"s":"u","t":1300,"v":1.98},{"s":"u","t":1400,"v":1.92},{"s":"u","t":1500,"v":1.85},{"s":"u","t":1600,"v":1.80},{"s":"u","t":1700,"v":1.75},{"s":"u","t":1800,"v":1.72},{"s":"u","t":1900,"v":1.69},{"s":"u","t":1950,"v":1.69},
    {"s":"n","t":-2000,"v":0.95},{"s":"n","t":-1900,"v":0.94},{"s":"n","t":-1800,"v":0.95},{"s":"n","t":-1700,"v":0.96},{"s":"n","t":-1600,"v":0.98},{"s":"n","t":-1500,"v":1.01},{"s":"n","t":-1400,"v":1.02},{"s":"n","t":-1300,"v":1.02},{"s":"n","t":-1200,"v":1.00},{"s":"n","t":-1100,"v":0.99},{"s":"n","t":-1000,"v":1.04},{"s":"n","t":-900,"v":1.05},{"s":"n","t":-800,"v":1.03},{"s":"n","t":-700,"v":0.98},{"s":"n","t":-600,"v":0.93},{"s":"n","t":-500,"v":0.88},{"s":"n","t":-400,"v":0.85},{"s":"n","t":-300,"v":0.84},{"s":"n","t":-200,"v":0.83},{"s":"n","t":-100,"v":0.85},{"s":"n","t":0,"v":0.89},{"s":"n","t":100,"v":0.91},{"s":"n","t":200,"v":0.94},{"s":"n","t":300,"v":0.99},{"s":"n","t":400,"v":1.04},{"s":"n","t":500,"v":1.05},{"s":"n","t":600,"v":1.05},{"s":"n","t":700,"v":1.02},{"s":"n","t":800,"v":0.98},{"s":"n","t":900,"v":0.94},{"s":"n","t":1000,"v":0.93},{"s":"n","t":1100,"v":0.93},{"s":"n","t":1200,"v":0.95},{"s":"n","t":1300,"v":0.95},{"s":"n","t":1400,"v":0.96},{"s":"n","t":1500,"v":0.95},{"s":"n","t":1600,"v":0.92},{"s":"n","t":1700,"v":0.95},{"s":"n","t":1800,"v":0.97},{"s":"n","t":1900,"v":1.02},{"s":"n","t":1950,"v":1.03}
  ],
  "k": [
    {"s":"u","t":-2000,"v":1.65},{"s":"u","t":-1900,"v":1.58},{"s":"u","t":-1800,"v":1.53},{"s":"u","t":-1700,"v":1.47},{"s":"u","t":-1600,"v":1.42},{"s":"u","t":-1500,"v":1.41},{"s":"u","t":-1400,"v":1.39},{"s":"u","t":-1300,"v":1.38},{"s":"u","t":-1200,"v":1.37},{"s":"u","t":-1100,"v":1.35},{"s":"u","t":-1000,"v":1.31},{"s":"u","t":-900,"v":1.27},{"s":"u","t":-800,"v":1.22},{"s":"u","t":-700,"v":1.16},{"s":"u","t":-600,"v":1.10},{"s":"u","t":-500,"v":1.05},{"s":"u","t":-400,"v":1.01},{"s":"u","t":-300,"v":0.99},{"s":"u","t":-200,"v":0.96},{"s":"u","t":-100,"v":0.98},{"s":"u","t":0,"v":1.02},{"s":"u","t":100,"v":1.02},{"s":"u","t":200,"v":1.05},{"s":"u","t":300,"v":1.08},{"s":"u","t":400,"v":1.08},{"s":"u","t":500,"v":1.09},{"s":"u","t":600,"v":1.12},{"s":"u","t":700,"v":1.15},{"s":"u","t":800,"v":1.19},{"s":"u","t":900,"v":1.22},{"s":"u","t":1000,"v":1.27},{"s":"u","t":1100,"v":1.30},{"s":"u","t":1200,"v":1.33},{"s":"u","t":1300,"v":1.38},{"s":"u","t":1400,"v":1.43},{"s":"u","t":1500,"v":1.47},{"s":"u","t":1600,"v":1.47},{"s":"u","t":1700,"v":1.45},{"s":"u","t":1800,"v":1.40},{"s":"u","t":1900,"v":1.36},{"s":"u","t":1950,"v":1.33},
    {"s":"n","t":-2000,"v":1.96},{"s":"n","t":-1900,"v":1.90},{"s":"n","t":-1800,"v":1.80},{"s":"n","t":-1700,"v":1.73},{"s":"n","t":-1600,"v":1.67},{"s":"n","t":-1500,"v":1.66},{"s":"n","t":-1400,"v":1.69},{"s":"n","t":-1300,"v":1.73},{"s":"n","t":-1200,"v":1.73},{"s":"n","t":-1100,"v":1.73},{"s":"n","t":-1000,"v":1.73},{"s":"n","t":-900,"v":1.68},{"s":"n","t":-800,"v":1.58},{"s":"n","t":-700,"v":1.45},{"s":"n","t":-600,"v":1.33},{"s":"n","t":-500,"v":1.22},{"s":"n","t":-400,"v":1.15},{"s":"n","t":-300,"v":1.13},{"s":"n","t":-200,"v":1.20},{"s":"n","t":-100,"v":1.27},{"s":"n","t":0,"v":1.33},{"s":"n","t":100,"v":1.45},{"s":"n","t":200,"v":1.55},{"s":"n","t":300,"v":1.58},{"s":"n","t":400,"v":1.64},{"s":"n","t":500,"v":1.65},{"s":"n","t":600,"v":1.62},{"s":"n","t":700,"v":1.58},{"s":"n","t":800,"v":1.56},{"s":"n","t":900,"v":1.58},{"s":"n","t":1000,"v":1.63},{"s":"n","t":1100,"v":1.70},{"s":"n","t":1200,"v":1.78},{"s":"n","t":1300,"v":1.87},{"s":"n","t":1400,"v":1.88},{"s":"n","t":1500,"v":1.84},{"s":"n","t":1600,"v":1.80},{"s":"n","t":1700,"v":1.75},{"s":"n","t":1800,"v":1.74},{"s":"n","t":1900,"v":1.78},{"s":"n","t":1950,"v":1.80}
  ],
  "lc": [
    {"set":"RING1A/B DKO","n":3209,"x":148,"y":61},{"set":"EED KO","n":2259,"x":157,"y":108},{"set":"NOL9 KD","n":228,"x":121,"y":107}
  ],
  "ln": [
    {"t":"1542","x":156,"y":32},{"t":"1539","x":164,"y":86},{"t":"102","x":128,"y":97},{"t":"26","x":105,"y":86},{"t":"81","x":105,"y":112},{"t":"19","x":124,"y":122},{"t":"599","x":156,"y":134}
  ],
  "ll": [
    {"t":"RING1A/B DKO","x":199,"y":6,"k":"name"},{"t":"upreg.","x":199,"y":16,"k":"up"},{"t":"N=3209","x":199,"y":26,"k":"name"},
    {"t":"NOL9 KD","x":46,"y":115,"k":"name"},{"t":"upreg.","x":46,"y":125,"k":"up"},{"t":"n=228","x":46,"y":135,"k":"name"},
    {"t":"EED KO","x":187,"y":139,"k":"name"},{"t":"upreg.","x":187,"y":149,"k":"up"},{"t":"N=2259","x":187,"y":159,"k":"name"}
  ],
  "mc": [
    {"set":"RING1A/B DKO","n":3209,"x":143,"y":64},{"set":"EED KO","n":2259,"x":152,"y":103},{"set":"NOL9 KD","n":30,"x":102,"y":122}
  ],
  "mn": [
    {"t":"1564","x":143,"y":38},{"t":"1639","x":150,"y":96},{"t":"4","x":105,"y":108},{"t":"2","x":112,"y":114},{"t":"23","x":101,"y":124},{"t":"1","x":115,"y":123},{"t":"617","x":159,"y":137}
  ],
  "ml": [
    {"t":"RING1A/B DKO","x":195,"y":6,"k":"name"},{"t":"upreg.","x":195,"y":16,"k":"up"},{"t":"N=3209","x":195,"y":26,"k":"name"},
    {"t":"NOL9 KD","x":42,"y":125,"k":"name"},{"t":"downreg.","x":42,"y":136,"k":"down"},{"t":"n=30","x":42,"y":146,"k":"name"},
    {"t":"EED KO","x":181,"y":143,"k":"name"},{"t":"upreg.","x":181,"y":153,"k":"up"},{"t":"N=2259","x":181,"y":163,"k":"name"}
  ]
},
"spacing": -1,
"resolve": {"scale": {"color": "independent", "stroke": "independent", "fill": "independent", "shape": "independent", "size": "independent"}},
"vconcat": [
  {
    "hconcat": [
      {
        "width": 124, "height": 162,
        "title": {"text": "a", "offset": -16},
        "layer": [
          {"data": {"name": "a"},
           "mark": {"type": "line", "strokeWidth": 1.3},
           "encoding": {
             "x": {"field": "day", "type": "quantitative", "scale": {"domain": [-1, 4.2], "nice": false, "zero": false}, "axis": {"values": [0,1,2,3,4], "labelOverlap": false, "title": "Days after transfection", "titleFontSize": 12.5, "titlePadding": 5}},
             "y": {"field": "n", "type": "quantitative", "scale": {"domain": [0, 15], "nice": false}, "axis": {"values": [0,5,10,15], "title": "Cell number (x10⁶)"}},
             "color": {"field": "s", "type": "nominal", "scale": {"domain": ["siCtrl","siSUV39H1","siEZH2","siNOL9","siLAS1L"], "range": ["#555555","#c6cc3c","#7b3fa6","#22955a","#62c85e"]}, "legend": {"orient": "none", "legendX": 40, "legendY": 3, "title": null, "rowPadding": 0, "symbolSize": 30, "labelFontSize": 10}}
           }},
          {"data": {"name": "a"},
           "mark": {"type": "point", "filled": true, "size": 24, "opacity": 1},
           "encoding": {
             "x": {"field": "day", "type": "quantitative"},
             "y": {"field": "n", "type": "quantitative"},
             "color": {"field": "s", "type": "nominal", "legend": {"orient": "none", "legendX": 40, "legendY": 3, "title": null, "rowPadding": 0, "symbolSize": 30, "labelFontSize": 10}},
             "shape": {"field": "s", "type": "nominal", "scale": {"domain": ["siCtrl","siSUV39H1","siEZH2","siNOL9","siLAS1L"], "range": ["square","circle","square","triangle-up","diamond"]}, "legend": {"orient": "none", "legendX": 40, "legendY": 3, "title": null, "rowPadding": 0, "symbolSize": 30, "labelFontSize": 10}}
           }},
          {"data": {"values": [{"day": 1.9, "from": 7.0, "to": 4.9}]},
           "mark": {"type": "rule", "color": "#e8302a", "strokeWidth": 2.5},
           "encoding": {"x": {"field": "day", "type": "quantitative"}, "y": {"field": "from", "type": "quantitative"}, "y2": {"field": "to"}}},
          {"data": {"values": [{"day": 1.9, "to": 4.4}]},
           "mark": {"type": "point", "shape": "triangle-down", "filled": true, "color": "#e8302a", "size": 70, "opacity": 1},
           "encoding": {"x": {"field": "day", "type": "quantitative"}, "y": {"field": "to", "type": "quantitative"}}}
        ]
      },
      {
        "hconcat": [
          {
            "width": 188, "height": 124,
            "title": {"text": "b", "offset": -1},
            "data": {"name": "b"},
            "mark": {"type": "line", "strokeWidth": 1.8},
            "encoding": {
              "x": {"field": "x", "type": "quantitative", "scale": {"domain": [-0.25, 1], "nice": false, "zero": false}, "axis": {"values": [0, 0.5, 1], "format": ".1f", "title": "Distance to TSS (kb)", "titlePadding": 9}},
              "y": {"field": "v", "type": "quantitative", "scale": {"domain": [0, 89], "nice": false}, "axis": {"values": [0,20,40,60,80], "title": "PRO-seq Signal"}},
              "color": {"field": "s", "type": "nominal", "scale": {"domain": ["Control","siNOL9"], "range": ["#000000","#1f9d4e"]}, "legend": {"orient": "none", "legendX": 56, "legendY": -2, "title": "Downregulated Genes (N=30)", "titleFontSize": 10.5, "symbolOffset": 80, "symbolType": "stroke", "symbolStrokeWidth": 2.5, "symbolSize": 200, "labelFontWeight": "normal", "labelFontSize": 11, "rowPadding": 3}}
            }
          },
          {
            "width": 190, "height": 124,
            "title": {"text": "c", "offset": -1, "dx": -13},
            "data": {"name": "c"},
            "mark": {"type": "line", "strokeWidth": 1.8},
            "encoding": {
              "x": {"field": "x", "type": "quantitative", "scale": {"domain": [-0.25, 1], "nice": false, "zero": false}, "axis": {"values": [0, 0.5, 1], "format": ".1f", "title": "Distance to TSS (kb)", "titlePadding": 9}},
              "y": {"field": "v", "type": "quantitative", "scale": {"domain": [0, 102], "nice": false}, "axis": {"values": [0,50,100], "title": "PRO-seq Signal"}},
              "color": {"field": "s", "type": "nominal", "scale": {"domain": ["siNOL9","Control"], "range": ["#1f9d4e","#000000"]}, "legend": {"orient": "none", "legendX": 74, "legendY": -2, "title": "Unaffected Genes (N=30)", "titleFontSize": 10.5, "symbolOffset": 58, "symbolType": "stroke", "symbolStrokeWidth": 2.5, "symbolSize": 200, "labelFontWeight": "normal", "labelFontSize": 11, "rowPadding": 3, "values": ["Control","siNOL9"]}}
            }
          }
        ],
        "spacing": 31,
        "resolve": {"scale": {"color": "independent"}}
      }
    ],
    "spacing": 55,
    "center": true,
    "resolve": {"scale": {"color": "independent", "shape": "independent"}}
  },
  {
    "vconcat": [
      {
        "hconcat": [
          {
            "title": {"text": "d", "offset": -17, "dx": -12},
            "bounds": "flush",
            "spacing": 0,
            "resolve": {"scale": {"stroke": "shared", "size": "shared"}},
            "hconcat": [
              {"width": 43, "height": 125, "data": {"name": "dv"}, "transform": [{"filter": "datum.g == 'D' && datum.c == 'siNOL9'"}],
               "layer": [
                {"transform": [{"filter": "datum.w != null"}],
                 "mark": {"type": "area", "orient": "horizontal", "fill": "white", "strokeWidth": 1.6, "interpolate": "monotone"},
                 "encoding": {
                   "y": {"field": "y", "type": "quantitative", "scale": {"domain": [-2, 2], "nice": false}, "axis": {"values": [-2,-1,0,1,2], "title": null, "offset": -12, "labelExpr": "'' + datum.value"}},
                   "x": {"field": "w", "type": "quantitative", "stack": "center", "scale": {"domain": [-32.5, 10.5], "nice": false, "zero": false}, "axis": {"labels": false, "ticks": false, "title": null}},
                   "stroke": {"field": "c", "type": "nominal", "scale": {"domain": ["siNOL9","siRING1AB","RING1AB DKO","EED KO"], "range": ["#1f9d4e","#4a6cc0","#4a6cc0","#62319a"]}, "legend": {"orient": "none", "legendX": 214, "legendY": 21, "title": null, "symbolType": "square", "symbolSize": 110, "symbolStrokeWidth": 2, "labelFontSize": 11, "rowPadding": -5}}
                 }},
                {"transform": [{"filter": "datum.z != null"}], "mark": {"type": "rule", "strokeDash": [2, 2], "color": "#333", "strokeWidth": 1}, "encoding": {"y": {"field": "z", "type": "quantitative"}}},
                {"transform": [{"filter": "datum.med != null"}], "mark": {"type": "tick", "orient": "horizontal", "thickness": 1.6, "color": "#1f9d4e"}, "encoding": {"x": {"datum": 0, "type": "quantitative"}, "y": {"field": "med", "type": "quantitative"}, "size": {"field": "mw", "type": "quantitative", "scale": {"domain": [0, 21], "range": [0, 21]}, "legend": null}}},
                {"transform": [{"filter": "datum.med != null"}], "mark": {"type": "text", "text": "Fold Change in PRO-seq", "angle": 270, "fontSize": 11, "fontWeight": "bold", "align": "center", "baseline": "middle"}, "encoding": {"x": {"datum": -45.5, "type": "quantitative"}, "y": {"datum": 0, "type": "quantitative"}}},
                {"transform": [{"filter": "datum.med != null"}], "mark": {"type": "text", "text": "reads (log2)", "angle": 270, "fontSize": 11, "fontWeight": "bold", "align": "center", "baseline": "middle"}, "encoding": {"x": {"datum": -33.5, "type": "quantitative"}, "y": {"datum": 0, "type": "quantitative"}}}
               ]},
              {"width": 21, "height": 125, "data": {"name": "dv"}, "transform": [{"filter": "datum.g == 'D' && datum.c == 'siRING1AB'"}],
               "layer": [
                {"transform": [{"filter": "datum.w != null"}],
                 "mark": {"type": "area", "orient": "horizontal", "fill": "white", "strokeWidth": 1.6, "interpolate": "monotone"},
                 "encoding": {
                   "y": {"field": "y", "type": "quantitative", "scale": {"domain": [-2, 2], "nice": false}, "axis": null},
                   "x": {"field": "w", "type": "quantitative", "stack": "center", "scale": {"domain": [-10.5, 10.5], "nice": false, "zero": false}, "axis": {"labels": false, "ticks": false, "title": null}},
                   "stroke": {"field": "c", "type": "nominal", "scale": {"domain": ["siNOL9","siRING1AB","RING1AB DKO","EED KO"], "range": ["#1f9d4e","#4a6cc0","#4a6cc0","#62319a"]}, "legend": {"orient": "none", "legendX": 214, "legendY": 21, "title": null, "symbolType": "square", "symbolSize": 110, "symbolStrokeWidth": 2, "labelFontSize": 11, "rowPadding": -5}}
                 }},
                {"transform": [{"filter": "datum.z != null"}], "mark": {"type": "rule", "strokeDash": [2, 2], "color": "#333", "strokeWidth": 1}, "encoding": {"y": {"field": "z", "type": "quantitative"}}},
                {"transform": [{"filter": "datum.med != null"}], "mark": {"type": "tick", "orient": "horizontal", "thickness": 1.6, "color": "#4a6cc0"}, "encoding": {"y": {"field": "med", "type": "quantitative"}, "size": {"field": "mw", "type": "quantitative", "scale": {"domain": [0, 21], "range": [0, 21]}, "legend": null}}},
                {"transform": [{"filter": "datum.ns != null"}], "mark": {"type": "tick", "orient": "horizontal", "size": 93, "thickness": 2, "color": "#000"}, "encoding": {"x": {"datum": 40, "type": "quantitative"}, "y": {"field": "ns", "type": "quantitative"}}},
                {"transform": [{"filter": "datum.ns != null"}], "mark": {"type": "text", "text": "ns", "fontSize": 11, "fontWeight": "bold", "baseline": "bottom", "dy": -2}, "encoding": {"x": {"datum": 40, "type": "quantitative"}, "y": {"field": "ns", "type": "quantitative"}}},
                {"transform": [{"filter": "datum.ns != null"}], "mark": {"type": "text", "text": "Downregulated", "fontSize": 11.5, "fontWeight": "bold", "baseline": "middle", "align": "center"}, "encoding": {"x": {"datum": 10.5, "type": "quantitative"}, "y": {"datum": -2.45, "type": "quantitative"}}}
               ]},
              {"width": 21, "height": 125, "data": {"name": "dv"}, "transform": [{"filter": "datum.g == 'D' && datum.c == 'RING1AB DKO'"}],
               "layer": [
                {"transform": [{"filter": "datum.w != null"}],
                 "mark": {"type": "area", "orient": "horizontal", "fill": "white", "strokeWidth": 1.6, "interpolate": "monotone"},
                 "encoding": {
                   "y": {"field": "y", "type": "quantitative", "scale": {"domain": [-2, 2], "nice": false}, "axis": null},
                   "x": {"field": "w", "type": "quantitative", "stack": "center", "scale": {"domain": [-10.5, 10.5], "nice": false, "zero": false}, "axis": {"labels": false, "ticks": false, "title": null}},
                   "stroke": {"field": "c", "type": "nominal", "scale": {"domain": ["siNOL9","siRING1AB","RING1AB DKO","EED KO"], "range": ["#1f9d4e","#4a6cc0","#4a6cc0","#62319a"]}, "legend": {"orient": "none", "legendX": 214, "legendY": 21, "title": null, "symbolType": "square", "symbolSize": 110, "symbolStrokeWidth": 2, "labelFontSize": 11, "rowPadding": -5}}
                 }},
                {"transform": [{"filter": "datum.z != null"}], "mark": {"type": "rule", "strokeDash": [2, 2], "color": "#333", "strokeWidth": 1}, "encoding": {"y": {"field": "z", "type": "quantitative"}}},
                {"transform": [{"filter": "datum.med != null"}], "mark": {"type": "tick", "orient": "horizontal", "thickness": 1.6, "color": "#4a6cc0"}, "encoding": {"y": {"field": "med", "type": "quantitative"}, "size": {"field": "mw", "type": "quantitative", "scale": {"domain": [0, 21], "range": [0, 21]}, "legend": null}}},
                {"transform": [{"filter": "datum.ns != null"}], "mark": {"type": "tick", "orient": "horizontal", "size": 93, "thickness": 2, "color": "#000"}, "encoding": {"x": {"datum": 44, "type": "quantitative"}, "y": {"field": "ns", "type": "quantitative"}}},
                {"transform": [{"filter": "datum.ns != null"}], "mark": {"type": "text", "text": "ns", "fontSize": 11, "fontWeight": "bold", "baseline": "bottom", "dy": -2}, "encoding": {"x": {"datum": 44, "type": "quantitative"}, "y": {"field": "ns", "type": "quantitative"}}}
               ]},
              {"width": 21, "height": 125, "data": {"name": "dv"}, "transform": [{"filter": "datum.g == 'D' && datum.c == 'EED KO'"}],
               "layer": [
                {"transform": [{"filter": "datum.w != null"}],
                 "mark": {"type": "area", "orient": "horizontal", "fill": "white", "strokeWidth": 1.6, "interpolate": "monotone"},
                 "encoding": {
                   "y": {"field": "y", "type": "quantitative", "scale": {"domain": [-2, 2], "nice": false}, "axis": null},
                   "x": {"field": "w", "type": "quantitative", "stack": "center", "scale": {"domain": [-10.5, 10.5], "nice": false, "zero": false}, "axis": {"labels": false, "ticks": false, "title": null}},
                   "stroke": {"field": "c", "type": "nominal", "scale": {"domain": ["siNOL9","siRING1AB","RING1AB DKO","EED KO"], "range": ["#1f9d4e","#4a6cc0","#4a6cc0","#62319a"]}, "legend": {"orient": "none", "legendX": 214, "legendY": 21, "title": null, "symbolType": "square", "symbolSize": 110, "symbolStrokeWidth": 2, "labelFontSize": 11, "rowPadding": -5}}
                 }},
                {"transform": [{"filter": "datum.z != null"}], "mark": {"type": "rule", "strokeDash": [2, 2], "color": "#333", "strokeWidth": 1}, "encoding": {"y": {"field": "z", "type": "quantitative"}}},
                {"transform": [{"filter": "datum.med != null"}], "mark": {"type": "tick", "orient": "horizontal", "thickness": 1.6, "color": "#62319a"}, "encoding": {"y": {"field": "med", "type": "quantitative"}, "size": {"field": "mw", "type": "quantitative", "scale": {"domain": [0, 21], "range": [0, 21]}, "legend": null}}},
                {"transform": [{"filter": "datum.ns != null"}], "mark": {"type": "tick", "orient": "horizontal", "size": 93, "thickness": 2, "color": "#000"}, "encoding": {"x": {"datum": 47.5, "type": "quantitative"}, "y": {"field": "ns", "type": "quantitative"}}},
                {"transform": [{"filter": "datum.ns != null"}], "mark": {"type": "text", "text": "ns", "fontSize": 11, "fontWeight": "bold", "baseline": "bottom", "dy": -2}, "encoding": {"x": {"datum": 47.5, "type": "quantitative"}, "y": {"field": "ns", "type": "quantitative"}}}
               ]},
              {"width": 21.5, "height": 125, "data": {"name": "dv"}, "transform": [{"filter": "datum.g == 'U' && datum.c == 'siNOL9'"}],
               "layer": [
                {"transform": [{"filter": "datum.w != null"}],
                 "mark": {"type": "area", "orient": "horizontal", "fill": "white", "strokeWidth": 1.6, "interpolate": "monotone"},
                 "encoding": {
                   "y": {"field": "y", "type": "quantitative", "scale": {"domain": [-2, 2], "nice": false}, "axis": {"labels": false, "ticks": false, "title": null, "domainWidth": 2}},
                   "x": {"field": "w", "type": "quantitative", "stack": "center", "scale": {"domain": [-5, 16.5], "nice": false, "zero": false}, "axis": {"labels": false, "ticks": false, "title": null}},
                   "stroke": {"field": "c", "type": "nominal", "scale": {"domain": ["siNOL9","siRING1AB","RING1AB DKO","EED KO"], "range": ["#1f9d4e","#4a6cc0","#4a6cc0","#62319a"]}, "legend": {"orient": "none", "legendX": 214, "legendY": 21, "title": null, "symbolType": "square", "symbolSize": 110, "symbolStrokeWidth": 2, "labelFontSize": 11, "rowPadding": -5}}
                 }},
                {"transform": [{"filter": "datum.z != null"}], "mark": {"type": "rule", "strokeDash": [2, 2], "color": "#333", "strokeWidth": 1}, "encoding": {"y": {"field": "z", "type": "quantitative"}}},
                {"transform": [{"filter": "datum.med != null"}], "mark": {"type": "tick", "orient": "horizontal", "thickness": 1.6, "color": "#1f9d4e"}, "encoding": {"x": {"datum": 0, "type": "quantitative"}, "y": {"field": "med", "type": "quantitative"}, "size": {"field": "mw", "type": "quantitative", "scale": {"domain": [0, 21], "range": [0, 21]}, "legend": null}}}
               ]},
              {"width": 21.5, "height": 125, "data": {"name": "dv"}, "transform": [{"filter": "datum.g == 'U' && datum.c == 'siRING1AB'"}],
               "layer": [
                {"transform": [{"filter": "datum.w != null"}],
                 "mark": {"type": "area", "orient": "horizontal", "fill": "white", "strokeWidth": 1.6, "interpolate": "monotone"},
                 "encoding": {
                   "y": {"field": "y", "type": "quantitative", "scale": {"domain": [-2, 2], "nice": false}, "axis": null},
                   "x": {"field": "w", "type": "quantitative", "stack": "center", "scale": {"domain": [-5, 16.5], "nice": false, "zero": false}, "axis": {"labels": false, "ticks": false, "title": null}},
                   "stroke": {"field": "c", "type": "nominal", "scale": {"domain": ["siNOL9","siRING1AB","RING1AB DKO","EED KO"], "range": ["#1f9d4e","#4a6cc0","#4a6cc0","#62319a"]}, "legend": {"orient": "none", "legendX": 214, "legendY": 21, "title": null, "symbolType": "square", "symbolSize": 110, "symbolStrokeWidth": 2, "labelFontSize": 11, "rowPadding": -5}}
                 }},
                {"transform": [{"filter": "datum.z != null"}], "mark": {"type": "rule", "strokeDash": [2, 2], "color": "#333", "strokeWidth": 1}, "encoding": {"y": {"field": "z", "type": "quantitative"}}},
                {"transform": [{"filter": "datum.med != null"}], "mark": {"type": "tick", "orient": "horizontal", "thickness": 1.6, "color": "#4a6cc0"}, "encoding": {"x": {"datum": 0, "type": "quantitative"}, "y": {"field": "med", "type": "quantitative"}, "size": {"field": "mw", "type": "quantitative", "scale": {"domain": [0, 21], "range": [0, 21]}, "legend": null}}},
                {"transform": [{"filter": "datum.med != null"}], "mark": {"type": "text", "text": "Unchanged", "fontSize": 11.5, "fontWeight": "bold", "baseline": "middle", "align": "center"}, "encoding": {"x": {"datum": 23.5, "type": "quantitative"}, "y": {"datum": -2.45, "type": "quantitative"}}}
               ]},
              {"width": 21.5, "height": 125, "data": {"name": "dv"}, "transform": [{"filter": "datum.g == 'U' && datum.c == 'RING1AB DKO'"}],
               "layer": [
                {"transform": [{"filter": "datum.w != null"}],
                 "mark": {"type": "area", "orient": "horizontal", "fill": "white", "strokeWidth": 1.6, "interpolate": "monotone"},
                 "encoding": {
                   "y": {"field": "y", "type": "quantitative", "scale": {"domain": [-2, 2], "nice": false}, "axis": null},
                   "x": {"field": "w", "type": "quantitative", "stack": "center", "scale": {"domain": [-5, 16.5], "nice": false, "zero": false}, "axis": {"labels": false, "ticks": false, "title": null}},
                   "stroke": {"field": "c", "type": "nominal", "scale": {"domain": ["siNOL9","siRING1AB","RING1AB DKO","EED KO"], "range": ["#1f9d4e","#4a6cc0","#4a6cc0","#62319a"]}, "legend": {"orient": "none", "legendX": 214, "legendY": 21, "title": null, "symbolType": "square", "symbolSize": 110, "symbolStrokeWidth": 2, "labelFontSize": 11, "rowPadding": -5}}
                 }},
                {"transform": [{"filter": "datum.z != null"}], "mark": {"type": "rule", "strokeDash": [2, 2], "color": "#333", "strokeWidth": 1}, "encoding": {"y": {"field": "z", "type": "quantitative"}}},
                {"transform": [{"filter": "datum.med != null"}], "mark": {"type": "tick", "orient": "horizontal", "thickness": 1.6, "color": "#4a6cc0"}, "encoding": {"x": {"datum": 0, "type": "quantitative"}, "y": {"field": "med", "type": "quantitative"}, "size": {"field": "mw", "type": "quantitative", "scale": {"domain": [0, 21], "range": [0, 21]}, "legend": null}}}
               ]},
              {"width": 21.5, "height": 125, "data": {"name": "dv"}, "transform": [{"filter": "datum.g == 'U' && datum.c == 'EED KO'"}],
               "layer": [
                {"transform": [{"filter": "datum.w != null"}],
                 "mark": {"type": "area", "orient": "horizontal", "fill": "white", "strokeWidth": 1.6, "interpolate": "monotone"},
                 "encoding": {
                   "y": {"field": "y", "type": "quantitative", "scale": {"domain": [-2, 2], "nice": false}, "axis": null},
                   "x": {"field": "w", "type": "quantitative", "stack": "center", "scale": {"domain": [-5, 16.5], "nice": false, "zero": false}, "axis": {"labels": false, "ticks": false, "title": null}},
                   "stroke": {"field": "c", "type": "nominal", "scale": {"domain": ["siNOL9","siRING1AB","RING1AB DKO","EED KO"], "range": ["#1f9d4e","#4a6cc0","#4a6cc0","#62319a"]}, "legend": {"orient": "none", "legendX": 214, "legendY": 21, "title": null, "symbolType": "square", "symbolSize": 110, "symbolStrokeWidth": 2, "labelFontSize": 11, "rowPadding": -5}}
                 }},
                {"transform": [{"filter": "datum.z != null"}], "mark": {"type": "rule", "strokeDash": [2, 2], "color": "#333", "strokeWidth": 1}, "encoding": {"y": {"field": "z", "type": "quantitative"}}},
                {"transform": [{"filter": "datum.med != null"}], "mark": {"type": "tick", "orient": "horizontal", "thickness": 1.6, "color": "#62319a"}, "encoding": {"x": {"datum": 0, "type": "quantitative"}, "y": {"field": "med", "type": "quantitative"}, "size": {"field": "mw", "type": "quantitative", "scale": {"domain": [0, 21], "range": [0, 21]}, "legend": null}}}
               ]}
            ]
          },
          {
            "title": {"text": "e", "offset": -19, "dx": -7},
            "bounds": "flush",
            "spacing": 0,
            "resolve": {"scale": {"stroke": "shared", "fill": "shared", "size": "shared"}},
            "vconcat": [
              {"width": 270, "height": 31, "data": {"name": "ev"}, "transform": [{"filter": "datum.sig != null"}],
               "encoding": {"x": {"field": "m", "type": "nominal", "sort": null, "scale": {"paddingInner": 0, "paddingOuter": 0}, "axis": null}},
               "layer": [
                {"mark": {"type": "tick", "orient": "horizontal", "size": 25, "thickness": 2.5, "color": "#000"}, "encoding": {"y": {"datum": 1, "type": "quantitative", "scale": {"domain": [0, 31], "nice": false}, "axis": null}}},
                {"transform": [{"filter": "datum.sig == '*'"}], "mark": {"type": "text", "fontSize": 17, "fontWeight": "bold", "baseline": "alphabetic", "dx": -3}, "encoding": {"y": {"datum": 1, "type": "quantitative", "axis": null}, "text": {"field": "sig"}}},
                {"transform": [{"filter": "datum.sig == 'n.s.'"}], "mark": {"type": "text", "fontSize": 10, "fontWeight": "bold", "baseline": "alphabetic"}, "encoding": {"y": {"datum": 6, "type": "quantitative", "axis": null}, "text": {"field": "sig"}}},
                {"mark": {"type": "text", "angle": -30, "fontSize": 10, "dx": -4}, "encoding": {"y": {"datum": 28, "type": "quantitative", "axis": null}, "text": {"field": "m"}}},
                {"transform": [{"filter": "datum.m == 'H2AK119Ub'"}], "mark": {"type": "text", "text": "* P < 0.05", "align": "left", "fontSize": 11, "fontWeight": "bold", "dx": -21}, "encoding": {"y": {"datum": 76, "type": "quantitative", "axis": null}}}
               ]},
              {
                "bounds": "flush",
                "spacing": 0,
                "resolve": {"scale": {"stroke": "shared", "fill": "shared", "size": "shared"}},
                "hconcat": [
                  {"width": 22.5, "height": 125, "data": {"name": "ev"}, "transform": [{"filter": "datum.id == 'TEX10_D'"}],
                   "layer": [
                    {"transform": [{"filter": "datum.w != null"}],
                     "mark": {"type": "area", "orient": "horizontal", "strokeWidth": 1.6, "interpolate": "monotone"},
                     "encoding": {
                       "y": {"field": "y", "type": "quantitative", "scale": {"domain": [0, 10], "nice": false}, "axis": {"values": [0, 5, 10], "title": null, "offset": 4}},
                       "x": {"field": "w", "type": "quantitative", "stack": "center", "scale": {"domain": [-11.25, 11.25], "nice": false, "zero": false}, "axis": {"labels": false, "ticks": false, "title": null}},
                       "stroke": {"field": "k", "type": "nominal", "scale": {"domain": ["D","U"], "range": ["#1f9d4e","#9d9d9d"]}, "legend": {"orient": "none", "legendX": -9, "legendY": -52, "title": null, "labelExpr": "datum.label == 'D' ? 'Downregulated (N=30)' : 'Unchanged (N=30)'", "symbolType": "square", "symbolSize": 110, "symbolStrokeWidth": 2, "labelFontSize": 11, "rowPadding": -5}},
                       "fill": {"field": "k", "type": "nominal", "scale": {"domain": ["D","U"], "range": ["#ffffff","#e2e2e2"]}, "legend": {"orient": "none", "legendX": -9, "legendY": -52, "title": null, "labelExpr": "datum.label == 'D' ? 'Downregulated (N=30)' : 'Unchanged (N=30)'", "symbolType": "square", "symbolSize": 110, "symbolStrokeWidth": 2, "labelFontSize": 11, "rowPadding": -5}}
                     }},
                    {"transform": [{"filter": "datum.med != null"}], "mark": {"type": "tick", "orient": "horizontal", "thickness": 1.6, "color": "#1f9d4e"}, "encoding": {"y": {"field": "med", "type": "quantitative"}, "size": {"field": "mw", "type": "quantitative", "scale": {"domain": [0, 21], "range": [0, 21]}, "legend": null}}},
                    {"transform": [{"filter": "datum.med != null"}], "mark": {"type": "text", "text": "ChIP-seq Signal", "angle": 270, "fontSize": 11, "fontWeight": "bold", "align": "center", "baseline": "middle"}, "encoding": {"x": {"datum": -53, "type": "quantitative"}, "y": {"datum": 5, "type": "quantitative"}}},
                    {"transform": [{"filter": "datum.med != null"}], "mark": {"type": "text", "text": "(TSS+/-1kb, log2)", "angle": 270, "fontSize": 11, "fontWeight": "bold", "align": "center", "baseline": "middle"}, "encoding": {"x": {"datum": -41, "type": "quantitative"}, "y": {"datum": 5, "type": "quantitative"}}}
                   ]},
                  {"width": 22.5, "height": 125, "data": {"name": "ev"}, "transform": [{"filter": "datum.id == 'TEX10_U'"}],
                   "layer": [
                    {"transform": [{"filter": "datum.w != null"}],
                     "mark": {"type": "area", "orient": "horizontal", "strokeWidth": 1.6, "interpolate": "monotone"},
                     "encoding": {
                       "y": {"field": "y", "type": "quantitative", "scale": {"domain": [0, 10], "nice": false}, "axis": null},
                       "x": {"field": "w", "type": "quantitative", "stack": "center", "scale": {"domain": [-11.25, 11.25], "nice": false, "zero": false}, "axis": {"labels": false, "ticks": false, "title": null}},
                       "stroke": {"field": "k", "type": "nominal", "scale": {"domain": ["D","U"], "range": ["#1f9d4e","#9d9d9d"]}, "legend": {"orient": "none", "legendX": -9, "legendY": -52, "title": null, "labelExpr": "datum.label == 'D' ? 'Downregulated (N=30)' : 'Unchanged (N=30)'", "symbolType": "square", "symbolSize": 110, "symbolStrokeWidth": 2, "labelFontSize": 11, "rowPadding": -5}},
                       "fill": {"field": "k", "type": "nominal", "scale": {"domain": ["D","U"], "range": ["#ffffff","#e2e2e2"]}, "legend": {"orient": "none", "legendX": -9, "legendY": -52, "title": null, "labelExpr": "datum.label == 'D' ? 'Downregulated (N=30)' : 'Unchanged (N=30)'", "symbolType": "square", "symbolSize": 110, "symbolStrokeWidth": 2, "labelFontSize": 11, "rowPadding": -5}}
                     }},
                    {"transform": [{"filter": "datum.med != null"}], "mark": {"type": "tick", "orient": "horizontal", "thickness": 1.6, "color": "#9d9d9d"}, "encoding": {"y": {"field": "med", "type": "quantitative"}, "size": {"field": "mw", "type": "quantitative", "scale": {"domain": [0, 21], "range": [0, 21]}, "legend": null}}}
                   ]},
                  {"width": 22.5, "height": 125, "data": {"name": "ev"}, "transform": [{"filter": "datum.id == 'MDN1_D'"}],
                   "layer": [
                    {"transform": [{"filter": "datum.w != null"}],
                     "mark": {"type": "area", "orient": "horizontal", "strokeWidth": 1.6, "interpolate": "monotone"},
                     "encoding": {
                       "y": {"field": "y", "type": "quantitative", "scale": {"domain": [0, 10], "nice": false}, "axis": {"labels": false, "ticks": false, "title": null, "domainWidth": 2}},
                       "x": {"field": "w", "type": "quantitative", "stack": "center", "scale": {"domain": [-11.25, 11.25], "nice": false, "zero": false}, "axis": {"labels": false, "ticks": false, "title": null}},
                       "stroke": {"field": "k", "type": "nominal", "scale": {"domain": ["D","U"], "range": ["#1f9d4e","#9d9d9d"]}, "legend": {"orient": "none", "legendX": -9, "legendY": -52, "title": null, "labelExpr": "datum.label == 'D' ? 'Downregulated (N=30)' : 'Unchanged (N=30)'", "symbolType": "square", "symbolSize": 110, "symbolStrokeWidth": 2, "labelFontSize": 11, "rowPadding": -5}},
                       "fill": {"field": "k", "type": "nominal", "scale": {"domain": ["D","U"], "range": ["#ffffff","#e2e2e2"]}, "legend": {"orient": "none", "legendX": -9, "legendY": -52, "title": null, "labelExpr": "datum.label == 'D' ? 'Downregulated (N=30)' : 'Unchanged (N=30)'", "symbolType": "square", "symbolSize": 110, "symbolStrokeWidth": 2, "labelFontSize": 11, "rowPadding": -5}}
                     }},
                    {"transform": [{"filter": "datum.med != null"}], "mark": {"type": "tick", "orient": "horizontal", "thickness": 1.6, "color": "#1f9d4e"}, "encoding": {"y": {"field": "med", "type": "quantitative"}, "size": {"field": "mw", "type": "quantitative", "scale": {"domain": [0, 21], "range": [0, 21]}, "legend": null}}}
                   ]},
                  {"width": 22.5, "height": 125, "data": {"name": "ev"}, "transform": [{"filter": "datum.id == 'MDN1_U'"}],
                   "layer": [
                    {"transform": [{"filter": "datum.w != null"}],
                     "mark": {"type": "area", "orient": "horizontal", "strokeWidth": 1.6, "interpolate": "monotone"},
                     "encoding": {
                       "y": {"field": "y", "type": "quantitative", "scale": {"domain": [0, 10], "nice": false}, "axis": null},
                       "x": {"field": "w", "type": "quantitative", "stack": "center", "scale": {"domain": [-11.25, 11.25], "nice": false, "zero": false}, "axis": {"labels": false, "ticks": false, "title": null}},
                       "stroke": {"field": "k", "type": "nominal", "scale": {"domain": ["D","U"], "range": ["#1f9d4e","#9d9d9d"]}, "legend": {"orient": "none", "legendX": -9, "legendY": -52, "title": null, "labelExpr": "datum.label == 'D' ? 'Downregulated (N=30)' : 'Unchanged (N=30)'", "symbolType": "square", "symbolSize": 110, "symbolStrokeWidth": 2, "labelFontSize": 11, "rowPadding": -5}},
                       "fill": {"field": "k", "type": "nominal", "scale": {"domain": ["D","U"], "range": ["#ffffff","#e2e2e2"]}, "legend": {"orient": "none", "legendX": -9, "legendY": -52, "title": null, "labelExpr": "datum.label == 'D' ? 'Downregulated (N=30)' : 'Unchanged (N=30)'", "symbolType": "square", "symbolSize": 110, "symbolStrokeWidth": 2, "labelFontSize": 11, "rowPadding": -5}}
                     }},
                    {"transform": [{"filter": "datum.med != null"}], "mark": {"type": "tick", "orient": "horizontal", "thickness": 1.6, "color": "#9d9d9d"}, "encoding": {"y": {"field": "med", "type": "quantitative"}, "size": {"field": "mw", "type": "quantitative", "scale": {"domain": [0, 21], "range": [0, 21]}, "legend": null}}}
                   ]},
                  {"width": 22.5, "height": 125, "data": {"name": "ev"}, "transform": [{"filter": "datum.id == 'RING1B_D'"}],
                   "layer": [
                    {"transform": [{"filter": "datum.w != null"}],
                     "mark": {"type": "area", "orient": "horizontal", "strokeWidth": 1.6, "interpolate": "monotone", "stroke": "#3c5bb4"},
                     "encoding": {
                       "y": {"field": "y", "type": "quantitative", "scale": {"domain": [0, 10], "nice": false}, "axis": {"labels": false, "ticks": false, "title": null, "domainWidth": 2}},
                       "x": {"field": "w", "type": "quantitative", "stack": "center", "scale": {"domain": [-11.25, 11.25], "nice": false, "zero": false}, "axis": {"labels": false, "ticks": false, "title": null}},
                       "fill": {"field": "k", "type": "nominal", "scale": {"domain": ["D","U"], "range": ["#ffffff","#e2e2e2"]}, "legend": {"orient": "none", "legendX": -9, "legendY": -52, "title": null, "labelExpr": "datum.label == 'D' ? 'Downregulated (N=30)' : 'Unchanged (N=30)'", "symbolType": "square", "symbolSize": 110, "symbolStrokeWidth": 2, "labelFontSize": 11, "rowPadding": -5}}
                     }},
                    {"transform": [{"filter": "datum.med != null"}], "mark": {"type": "tick", "orient": "horizontal", "thickness": 1.6, "color": "#3c5bb4"}, "encoding": {"y": {"field": "med", "type": "quantitative"}, "size": {"field": "mw", "type": "quantitative", "scale": {"domain": [0, 21], "range": [0, 21]}, "legend": null}}}
                   ]},
                  {"width": 22.5, "height": 125, "data": {"name": "ev"}, "transform": [{"filter": "datum.id == 'RING1B_U'"}],
                   "layer": [
                    {"transform": [{"filter": "datum.w != null"}],
                     "mark": {"type": "area", "orient": "horizontal", "strokeWidth": 1.6, "interpolate": "monotone"},
                     "encoding": {
                       "y": {"field": "y", "type": "quantitative", "scale": {"domain": [0, 10], "nice": false}, "axis": null},
                       "x": {"field": "w", "type": "quantitative", "stack": "center", "scale": {"domain": [-11.25, 11.25], "nice": false, "zero": false}, "axis": {"labels": false, "ticks": false, "title": null}},
                       "stroke": {"field": "k", "type": "nominal", "scale": {"domain": ["D","U"], "range": ["#1f9d4e","#9d9d9d"]}, "legend": {"orient": "none", "legendX": -9, "legendY": -52, "title": null, "labelExpr": "datum.label == 'D' ? 'Downregulated (N=30)' : 'Unchanged (N=30)'", "symbolType": "square", "symbolSize": 110, "symbolStrokeWidth": 2, "labelFontSize": 11, "rowPadding": -5}},
                       "fill": {"field": "k", "type": "nominal", "scale": {"domain": ["D","U"], "range": ["#ffffff","#e2e2e2"]}, "legend": {"orient": "none", "legendX": -9, "legendY": -52, "title": null, "labelExpr": "datum.label == 'D' ? 'Downregulated (N=30)' : 'Unchanged (N=30)'", "symbolType": "square", "symbolSize": 110, "symbolStrokeWidth": 2, "labelFontSize": 11, "rowPadding": -5}}
                     }},
                    {"transform": [{"filter": "datum.med != null"}], "mark": {"type": "tick", "orient": "horizontal", "thickness": 1.6, "color": "#9d9d9d"}, "encoding": {"y": {"field": "med", "type": "quantitative"}, "size": {"field": "mw", "type": "quantitative", "scale": {"domain": [0, 21], "range": [0, 21]}, "legend": null}}}
                   ]},
                  {"width": 22.5, "height": 125, "data": {"name": "ev"}, "transform": [{"filter": "datum.id == 'H2AK119Ub_D'"}],
                   "layer": [
                    {"transform": [{"filter": "datum.w != null"}],
                     "mark": {"type": "area", "orient": "horizontal", "strokeWidth": 1.6, "interpolate": "monotone", "stroke": "#3c5bb4"},
                     "encoding": {
                       "y": {"field": "y", "type": "quantitative", "scale": {"domain": [0, 10], "nice": false}, "axis": {"labels": false, "ticks": false, "title": null, "domainWidth": 2}},
                       "x": {"field": "w", "type": "quantitative", "stack": "center", "scale": {"domain": [-11.25, 11.25], "nice": false, "zero": false}, "axis": {"labels": false, "ticks": false, "title": null}},
                       "fill": {"field": "k", "type": "nominal", "scale": {"domain": ["D","U"], "range": ["#ffffff","#e2e2e2"]}, "legend": {"orient": "none", "legendX": -9, "legendY": -52, "title": null, "labelExpr": "datum.label == 'D' ? 'Downregulated (N=30)' : 'Unchanged (N=30)'", "symbolType": "square", "symbolSize": 110, "symbolStrokeWidth": 2, "labelFontSize": 11, "rowPadding": -5}}
                     }},
                    {"transform": [{"filter": "datum.med != null"}], "mark": {"type": "tick", "orient": "horizontal", "thickness": 1.6, "color": "#3c5bb4"}, "encoding": {"y": {"field": "med", "type": "quantitative"}, "size": {"field": "mw", "type": "quantitative", "scale": {"domain": [0, 21], "range": [0, 21]}, "legend": null}}}
                   ]},
                  {"width": 22.5, "height": 125, "data": {"name": "ev"}, "transform": [{"filter": "datum.id == 'H2AK119Ub_U'"}],
                   "layer": [
                    {"transform": [{"filter": "datum.w != null"}],
                     "mark": {"type": "area", "orient": "horizontal", "strokeWidth": 1.6, "interpolate": "monotone"},
                     "encoding": {
                       "y": {"field": "y", "type": "quantitative", "scale": {"domain": [0, 10], "nice": false}, "axis": null},
                       "x": {"field": "w", "type": "quantitative", "stack": "center", "scale": {"domain": [-11.25, 11.25], "nice": false, "zero": false}, "axis": {"labels": false, "ticks": false, "title": null}},
                       "stroke": {"field": "k", "type": "nominal", "scale": {"domain": ["D","U"], "range": ["#1f9d4e","#9d9d9d"]}, "legend": {"orient": "none", "legendX": -9, "legendY": -52, "title": null, "labelExpr": "datum.label == 'D' ? 'Downregulated (N=30)' : 'Unchanged (N=30)'", "symbolType": "square", "symbolSize": 110, "symbolStrokeWidth": 2, "labelFontSize": 11, "rowPadding": -5}},
                       "fill": {"field": "k", "type": "nominal", "scale": {"domain": ["D","U"], "range": ["#ffffff","#e2e2e2"]}, "legend": {"orient": "none", "legendX": -9, "legendY": -52, "title": null, "labelExpr": "datum.label == 'D' ? 'Downregulated (N=30)' : 'Unchanged (N=30)'", "symbolType": "square", "symbolSize": 110, "symbolStrokeWidth": 2, "labelFontSize": 11, "rowPadding": -5}}
                     }},
                    {"transform": [{"filter": "datum.med != null"}], "mark": {"type": "tick", "orient": "horizontal", "thickness": 1.6, "color": "#9d9d9d"}, "encoding": {"y": {"field": "med", "type": "quantitative"}, "size": {"field": "mw", "type": "quantitative", "scale": {"domain": [0, 21], "range": [0, 21]}, "legend": null}}}
                   ]},
                  {"width": 22.5, "height": 125, "data": {"name": "ev"}, "transform": [{"filter": "datum.id == 'H3K27me3_D'"}],
                   "layer": [
                    {"transform": [{"filter": "datum.w != null"}],
                     "mark": {"type": "area", "orient": "horizontal", "strokeWidth": 1.6, "interpolate": "monotone", "stroke": "#5e2b91"},
                     "encoding": {
                       "y": {"field": "y", "type": "quantitative", "scale": {"domain": [0, 10], "nice": false}, "axis": {"labels": false, "ticks": false, "title": null, "domainWidth": 2}},
                       "x": {"field": "w", "type": "quantitative", "stack": "center", "scale": {"domain": [-11.25, 11.25], "nice": false, "zero": false}, "axis": {"labels": false, "ticks": false, "title": null}},
                       "fill": {"field": "k", "type": "nominal", "scale": {"domain": ["D","U"], "range": ["#ffffff","#e2e2e2"]}, "legend": {"orient": "none", "legendX": -9, "legendY": -52, "title": null, "labelExpr": "datum.label == 'D' ? 'Downregulated (N=30)' : 'Unchanged (N=30)'", "symbolType": "square", "symbolSize": 110, "symbolStrokeWidth": 2, "labelFontSize": 11, "rowPadding": -5}}
                     }},
                    {"transform": [{"filter": "datum.med != null"}], "mark": {"type": "tick", "orient": "horizontal", "thickness": 1.6, "color": "#5e2b91"}, "encoding": {"y": {"field": "med", "type": "quantitative"}, "size": {"field": "mw", "type": "quantitative", "scale": {"domain": [0, 21], "range": [0, 21]}, "legend": null}}}
                   ]},
                  {"width": 22.5, "height": 125, "data": {"name": "ev"}, "transform": [{"filter": "datum.id == 'H3K27me3_U'"}],
                   "layer": [
                    {"transform": [{"filter": "datum.w != null"}],
                     "mark": {"type": "area", "orient": "horizontal", "strokeWidth": 1.6, "interpolate": "monotone"},
                     "encoding": {
                       "y": {"field": "y", "type": "quantitative", "scale": {"domain": [0, 10], "nice": false}, "axis": null},
                       "x": {"field": "w", "type": "quantitative", "stack": "center", "scale": {"domain": [-11.25, 11.25], "nice": false, "zero": false}, "axis": {"labels": false, "ticks": false, "title": null}},
                       "stroke": {"field": "k", "type": "nominal", "scale": {"domain": ["D","U"], "range": ["#1f9d4e","#9d9d9d"]}, "legend": {"orient": "none", "legendX": -9, "legendY": -52, "title": null, "labelExpr": "datum.label == 'D' ? 'Downregulated (N=30)' : 'Unchanged (N=30)'", "symbolType": "square", "symbolSize": 110, "symbolStrokeWidth": 2, "labelFontSize": 11, "rowPadding": -5}},
                       "fill": {"field": "k", "type": "nominal", "scale": {"domain": ["D","U"], "range": ["#ffffff","#e2e2e2"]}, "legend": {"orient": "none", "legendX": -9, "legendY": -52, "title": null, "labelExpr": "datum.label == 'D' ? 'Downregulated (N=30)' : 'Unchanged (N=30)'", "symbolType": "square", "symbolSize": 110, "symbolStrokeWidth": 2, "labelFontSize": 11, "rowPadding": -5}}
                     }},
                    {"transform": [{"filter": "datum.med != null"}], "mark": {"type": "tick", "orient": "horizontal", "thickness": 1.6, "color": "#9d9d9d"}, "encoding": {"y": {"field": "med", "type": "quantitative"}, "size": {"field": "mw", "type": "quantitative", "scale": {"domain": [0, 21], "range": [0, 21]}, "legend": null}}}
                   ]},
                  {"width": 22.5, "height": 125, "data": {"name": "ev"}, "transform": [{"filter": "datum.id == 'H3K9me3_D'"}],
                   "layer": [
                    {"transform": [{"filter": "datum.w != null"}],
                     "mark": {"type": "area", "orient": "horizontal", "strokeWidth": 1.6, "interpolate": "monotone", "stroke": "#f5a02c"},
                     "encoding": {
                       "y": {"field": "y", "type": "quantitative", "scale": {"domain": [0, 10], "nice": false}, "axis": {"labels": false, "ticks": false, "title": null, "domainWidth": 2}},
                       "x": {"field": "w", "type": "quantitative", "stack": "center", "scale": {"domain": [-11.25, 11.25], "nice": false, "zero": false}, "axis": {"labels": false, "ticks": false, "title": null}},
                       "fill": {"field": "k", "type": "nominal", "scale": {"domain": ["D","U"], "range": ["#ffffff","#e2e2e2"]}, "legend": {"orient": "none", "legendX": -9, "legendY": -52, "title": null, "labelExpr": "datum.label == 'D' ? 'Downregulated (N=30)' : 'Unchanged (N=30)'", "symbolType": "square", "symbolSize": 110, "symbolStrokeWidth": 2, "labelFontSize": 11, "rowPadding": -5}}
                     }},
                    {"transform": [{"filter": "datum.med != null"}], "mark": {"type": "tick", "orient": "horizontal", "thickness": 1.6, "color": "#f5a02c"}, "encoding": {"y": {"field": "med", "type": "quantitative"}, "size": {"field": "mw", "type": "quantitative", "scale": {"domain": [0, 21], "range": [0, 21]}, "legend": null}}}
                   ]},
                  {"width": 22.5, "height": 125, "data": {"name": "ev"}, "transform": [{"filter": "datum.id == 'H3K9me3_U'"}],
                   "layer": [
                    {"transform": [{"filter": "datum.w != null"}],
                     "mark": {"type": "area", "orient": "horizontal", "strokeWidth": 1.6, "interpolate": "monotone"},
                     "encoding": {
                       "y": {"field": "y", "type": "quantitative", "scale": {"domain": [0, 10], "nice": false}, "axis": null},
                       "x": {"field": "w", "type": "quantitative", "stack": "center", "scale": {"domain": [-11.25, 11.25], "nice": false, "zero": false}, "axis": {"labels": false, "ticks": false, "title": null}},
                       "stroke": {"field": "k", "type": "nominal", "scale": {"domain": ["D","U"], "range": ["#1f9d4e","#9d9d9d"]}, "legend": {"orient": "none", "legendX": -9, "legendY": -52, "title": null, "labelExpr": "datum.label == 'D' ? 'Downregulated (N=30)' : 'Unchanged (N=30)'", "symbolType": "square", "symbolSize": 110, "symbolStrokeWidth": 2, "labelFontSize": 11, "rowPadding": -5}},
                       "fill": {"field": "k", "type": "nominal", "scale": {"domain": ["D","U"], "range": ["#ffffff","#e2e2e2"]}, "legend": {"orient": "none", "legendX": -9, "legendY": -52, "title": null, "labelExpr": "datum.label == 'D' ? 'Downregulated (N=30)' : 'Unchanged (N=30)'", "symbolType": "square", "symbolSize": 110, "symbolStrokeWidth": 2, "labelFontSize": 11, "rowPadding": -5}}
                     }},
                    {"transform": [{"filter": "datum.med != null"}], "mark": {"type": "tick", "orient": "horizontal", "thickness": 1.6, "color": "#9d9d9d"}, "encoding": {"y": {"field": "med", "type": "quantitative"}, "size": {"field": "mw", "type": "quantitative", "scale": {"domain": [0, 21], "range": [0, 21]}, "legend": null}}}
                   ]}
                ]
              }
            ]
          }
        ],
        "spacing": 28,
        "resolve": {"scale": {"color": "independent", "stroke": "independent", "fill": "independent", "size": "independent"}}
      },
      {
        "vconcat": [
          {
            "hconcat": [
              {
                "width": 188, "height": 125, "title": {"text": "f", "offset": -7},
                "data": {"name": "f"},
                "mark": {"type": "line", "strokeWidth": 1.8},
                "encoding": {
                  "x": {"field": "t", "type": "quantitative", "scale": {"domain": [-2000, 2000], "nice": false}, "axis": {"values": [-2000,-1000,0,1000,2000], "labelExpr": "'' + datum.value", "labelOverlap": false, "title": "Distance to TSS (nt)"}},
                  "y": {"field": "v", "type": "quantitative", "scale": {"domain": [0.8, 1.8], "nice": false, "zero": false}, "axis": {"values": [0.8,1.0,1.2,1.4,1.6,1.8], "format": ".1f", "title": "TEX10 ChIP-seq Signal"}},
                  "color": {"field": "s", "type": "nominal", "scale": {"domain": ["u","n"], "range": ["#1f9d4e","#a3a3a3"]}, "legend": {"orient": "none", "legendX": 24, "legendY": -39.5, "title": null, "labelExpr": "datum.label == 'u' ? 'siNOL9-upregulated (N=228)' : 'siNOL9-unchanged (N=230)'", "symbolType": "stroke", "symbolStrokeWidth": 2.5, "symbolSize": 225, "rowPadding": 10}}
                }
              },
              {
                "hconcat": [
                  {
                    "width": 187, "height": 125, "title": {"text": "g", "offset": -6, "dx": -7},
                    "data": {"name": "g"},
                    "mark": {"type": "line", "strokeWidth": 1.8},
                    "encoding": {
                      "x": {"field": "t", "type": "quantitative", "scale": {"domain": [-2000, 2000], "nice": false}, "axis": {"values": [-2000,-1000,0,1000,2000], "labelExpr": "'' + datum.value", "labelOverlap": false, "title": "Distance to TSS (nt)"}},
                      "y": {"field": "v", "type": "quantitative", "scale": {"domain": [0, 2], "nice": false}, "axis": {"values": [0,0.5,1,1.5,2], "format": ".1f", "title": "MDN1 ChIP-seq Signal"}},
                      "color": {"field": "s", "type": "nominal", "scale": {"domain": ["u","n"], "range": ["#1f9d4e","#a3a3a3"]}, "legend": {"orient": "none", "legendX": 25, "legendY": -28.5, "title": null, "labelExpr": "datum.label == 'u' ? 'siNOL9-upregulated (N=228)' : 'siNOL9-unchanged (N=230)'", "symbolType": "stroke", "symbolStrokeWidth": 2.5, "symbolSize": 225, "rowPadding": -1}}
                    }
                  },
                  {
                    "width": 187, "height": 125, "title": {"text": "h", "offset": -4, "dx": -9},
                    "data": {"name": "h"},
                    "mark": {"type": "line", "strokeWidth": 1.8},
                    "encoding": {
                      "x": {"field": "t", "type": "quantitative", "scale": {"domain": [-2000, 2000], "nice": false}, "axis": {"values": [-2000,-1000,0,1000,2000], "labelExpr": "'' + datum.value", "labelOverlap": false, "title": "Distance to TSS (nt)"}},
                      "y": {"field": "v", "type": "quantitative", "scale": {"domain": [1, 2], "nice": false, "zero": false}, "axis": {"values": [1.0,1.2,1.4,1.6,1.8,2.0], "format": ".1f", "title": "RING1B ChIP-seq Signal"}},
                      "color": {"field": "s", "type": "nominal", "scale": {"domain": ["u","n"], "range": ["#3a56a8","#a3a3a3"]}, "legend": {"orient": "none", "legendX": 24, "legendY": -28.5, "title": null, "labelExpr": "datum.label == 'u' ? 'siNOL9-upregulated (N=228)' : 'siNOL9-unchanged (N=230)'", "symbolType": "stroke", "symbolStrokeWidth": 2.5, "symbolSize": 225, "rowPadding": -1}}
                    }
                  }
                ],
                "spacing": 13,
                "resolve": {"scale": {"color": "independent"}}
              }
            ],
            "spacing": 19,
            "resolve": {"scale": {"color": "independent"}}
          },
          {
            "vconcat": [
              {
                "hconcat": [
                  {
                    "width": 188, "height": 132, "title": {"text": "i", "offset": -8},
                    "data": {"name": "i"},
                    "mark": {"type": "line", "strokeWidth": 1.8},
                    "encoding": {
                      "x": {"field": "t", "type": "quantitative", "scale": {"domain": [-2000, 2000], "nice": false}, "axis": {"values": [-2000,-1000,0,1000,2000], "labelExpr": "'' + datum.value", "labelOverlap": false, "title": "Distance to TSS (nt)"}},
                      "y": {"field": "v", "type": "quantitative", "scale": {"domain": [1.56, 4.2], "nice": false, "zero": false}, "axis": {"values": [2,3,4], "title": "H2AK119Ub ChIP-seq Signal"}},
                      "color": {"field": "s", "type": "nominal", "scale": {"domain": ["u","n"], "range": ["#3a56a8","#a3a3a3"]}, "legend": {"orient": "none", "legendX": 23, "legendY": -27.5, "title": null, "labelExpr": "datum.label == 'u' ? 'siNOL9-upregulated (N=228)' : 'siNOL9-unchanged (N=230)'", "symbolType": "stroke", "symbolStrokeWidth": 2.5, "symbolSize": 225, "rowPadding": 1}}
                    }
                  },
                  {
                    "hconcat": [
                      {
                        "width": 187, "height": 125, "title": {"text": "j", "offset": -8, "dx": -3},
                        "data": {"name": "j"},
                        "mark": {"type": "line", "strokeWidth": 1.8},
                        "encoding": {
                          "x": {"field": "t", "type": "quantitative", "scale": {"domain": [-2000, 2000], "nice": false}, "axis": {"values": [-2000,-1000,0,1000,2000], "labelExpr": "'' + datum.value", "labelOverlap": false, "title": "Distance to TSS (nt)"}},
                          "y": {"field": "v", "type": "quantitative", "scale": {"domain": [0.8, 2.3], "nice": false, "zero": false}, "axis": {"values": [1.0,1.5,2.0], "format": ".1f", "title": "H3K27me3 ChIP-seq Signal"}},
                          "color": {"field": "s", "type": "nominal", "scale": {"domain": ["u","n"], "range": ["#5b2a8e","#a3a3a3"]}, "legend": {"orient": "none", "legendX": 23, "legendY": -29.5, "title": null, "labelExpr": "datum.label == 'u' ? 'siNOL9-upregulated (N=228)' : 'siNOL9-unchanged (N=230)'", "symbolType": "stroke", "symbolStrokeWidth": 2.5, "symbolSize": 225, "rowPadding": 1}}
                        }
                      },
                      {
                        "width": 185, "height": 125, "title": {"text": "k", "offset": -9, "dx": -9},
                        "data": {"name": "k"},
                        "mark": {"type": "line", "strokeWidth": 1.8},
                        "encoding": {
                          "x": {"field": "t", "type": "quantitative", "scale": {"domain": [-2000, 2000], "nice": false}, "axis": {"values": [-2000,-1000,0,1000,2000], "labelExpr": "'' + datum.value", "labelOverlap": false, "title": "Distance to TSS (nt)"}},
                          "y": {"field": "v", "type": "quantitative", "scale": {"domain": [0.8, 2.0], "nice": false, "zero": false}, "axis": {"values": [1.0,1.5,2.0], "format": ".1f", "title": "H3K9me3 ChIP-seq Signal"}},
                          "color": {"field": "s", "type": "nominal", "scale": {"domain": ["u","n"], "range": ["#f39a2b","#a3a3a3"]}, "legend": {"orient": "none", "legendX": 24, "legendY": -28.5, "title": null, "labelExpr": "datum.label == 'u' ? 'siNOL9-upregulated (N=228)' : 'siNOL9-unchanged (N=230)'", "symbolType": "stroke", "symbolStrokeWidth": 2.5, "symbolSize": 225, "rowPadding": 0}}
                        }
                      }
                    ],
                    "spacing": 15,
                    "resolve": {"scale": {"color": "independent"}}
                  }
                ],
                "spacing": 22,
                "resolve": {"scale": {"color": "independent"}}
              },
              {
                "hconcat": [
                  {
                    "width": 309, "height": 167,
                    "title": {"text": "l", "frame": "group", "dx": 31, "offset": -22},
                    "layer": [
                      {"data": {"name": "lc"},
                       "mark": {"type": "circle", "opacity": 1, "blend": "multiply"},
                       "encoding": {
                         "x": {"field": "x", "type": "quantitative", "scale": {"domain": [0, 309], "nice": false}, "axis": null},
                         "y": {"field": "y", "type": "quantitative", "scale": {"domain": [0, 167], "nice": false, "reverse": true}, "axis": null},
                         "size": {"field": "n", "type": "quantitative", "scale": {"type": "linear", "domain": [228, 2259, 3209], "range": [2206, 4536, 8171], "zero": false}, "legend": null},
                         "color": {"field": "set", "type": "nominal", "scale": {"domain": ["RING1A/B DKO","EED KO","NOL9 KD"], "range": ["#78aedb","#bca2d8","#86cfa4"]}, "legend": null}
                       }},
                      {"data": {"name": "ln"},
                       "mark": {"type": "text", "fontSize": 10.5},
                       "encoding": {"x": {"field": "x", "type": "quantitative"}, "y": {"field": "y", "type": "quantitative"}, "text": {"field": "t"}}},
                      {"data": {"name": "ll"},
                       "mark": {"type": "text", "fontSize": 9.5, "fontWeight": "bold", "align": "left"},
                       "encoding": {"x": {"field": "x", "type": "quantitative"}, "y": {"field": "y", "type": "quantitative"}, "text": {"field": "t"}, "color": {"field": "k", "type": "nominal", "scale": {"domain": ["name","up","down"], "range": ["#000000","#1f9d4e","#e0302a"]}, "legend": null}}}
                    ],
                    "resolve": {"scale": {"color": "independent"}}
                  },
                  {
                    "width": 300, "height": 167,
                    "title": {"text": "m", "frame": "group", "dx": 5, "offset": -22},
                    "layer": [
                      {"data": {"name": "mc"},
                       "mark": {"type": "circle", "opacity": 1, "blend": "multiply"},
                       "encoding": {
                         "x": {"field": "x", "type": "quantitative", "scale": {"domain": [0, 300], "nice": false}, "axis": null},
                         "y": {"field": "y", "type": "quantitative", "scale": {"domain": [0, 167], "nice": false, "reverse": true}, "axis": null},
                         "size": {"field": "n", "type": "quantitative", "scale": {"type": "linear", "domain": [30, 2259, 3209], "range": [573, 6362, 9503], "zero": false}, "legend": null},
                         "color": {"field": "set", "type": "nominal", "scale": {"domain": ["RING1A/B DKO","EED KO","NOL9 KD"], "range": ["#78aedb","#bca2d8","#86cfa4"]}, "legend": null}
                       }},
                      {"data": {"name": "mn"},
                       "mark": {"type": "text", "fontSize": 10.5},
                       "encoding": {"x": {"field": "x", "type": "quantitative"}, "y": {"field": "y", "type": "quantitative"}, "text": {"field": "t"}}},
                      {"data": {"name": "ml"},
                       "mark": {"type": "text", "fontSize": 9.5, "fontWeight": "bold", "align": "left"},
                       "encoding": {"x": {"field": "x", "type": "quantitative"}, "y": {"field": "y", "type": "quantitative"}, "text": {"field": "t"}, "color": {"field": "k", "type": "nominal", "scale": {"domain": ["name","up","down"], "range": ["#000000","#1f9d4e","#e0302a"]}, "legend": null}}}
                    ],
                    "resolve": {"scale": {"color": "independent"}}
                  }
                ],
                "spacing": 5,
                "resolve": {"scale": {"color": "independent", "size": "independent"}}
              }
            ],
            "spacing": 5,
            "resolve": {"scale": {"color": "independent", "size": "independent"}}
          }
        ],
        "spacing": 12,
        "resolve": {"scale": {"color": "independent", "size": "independent"}}
      }
    ],
    "spacing": -8,
    "resolve": {"scale": {"color": "independent", "stroke": "independent", "fill": "independent", "size": "independent"}}
  }
]
}
